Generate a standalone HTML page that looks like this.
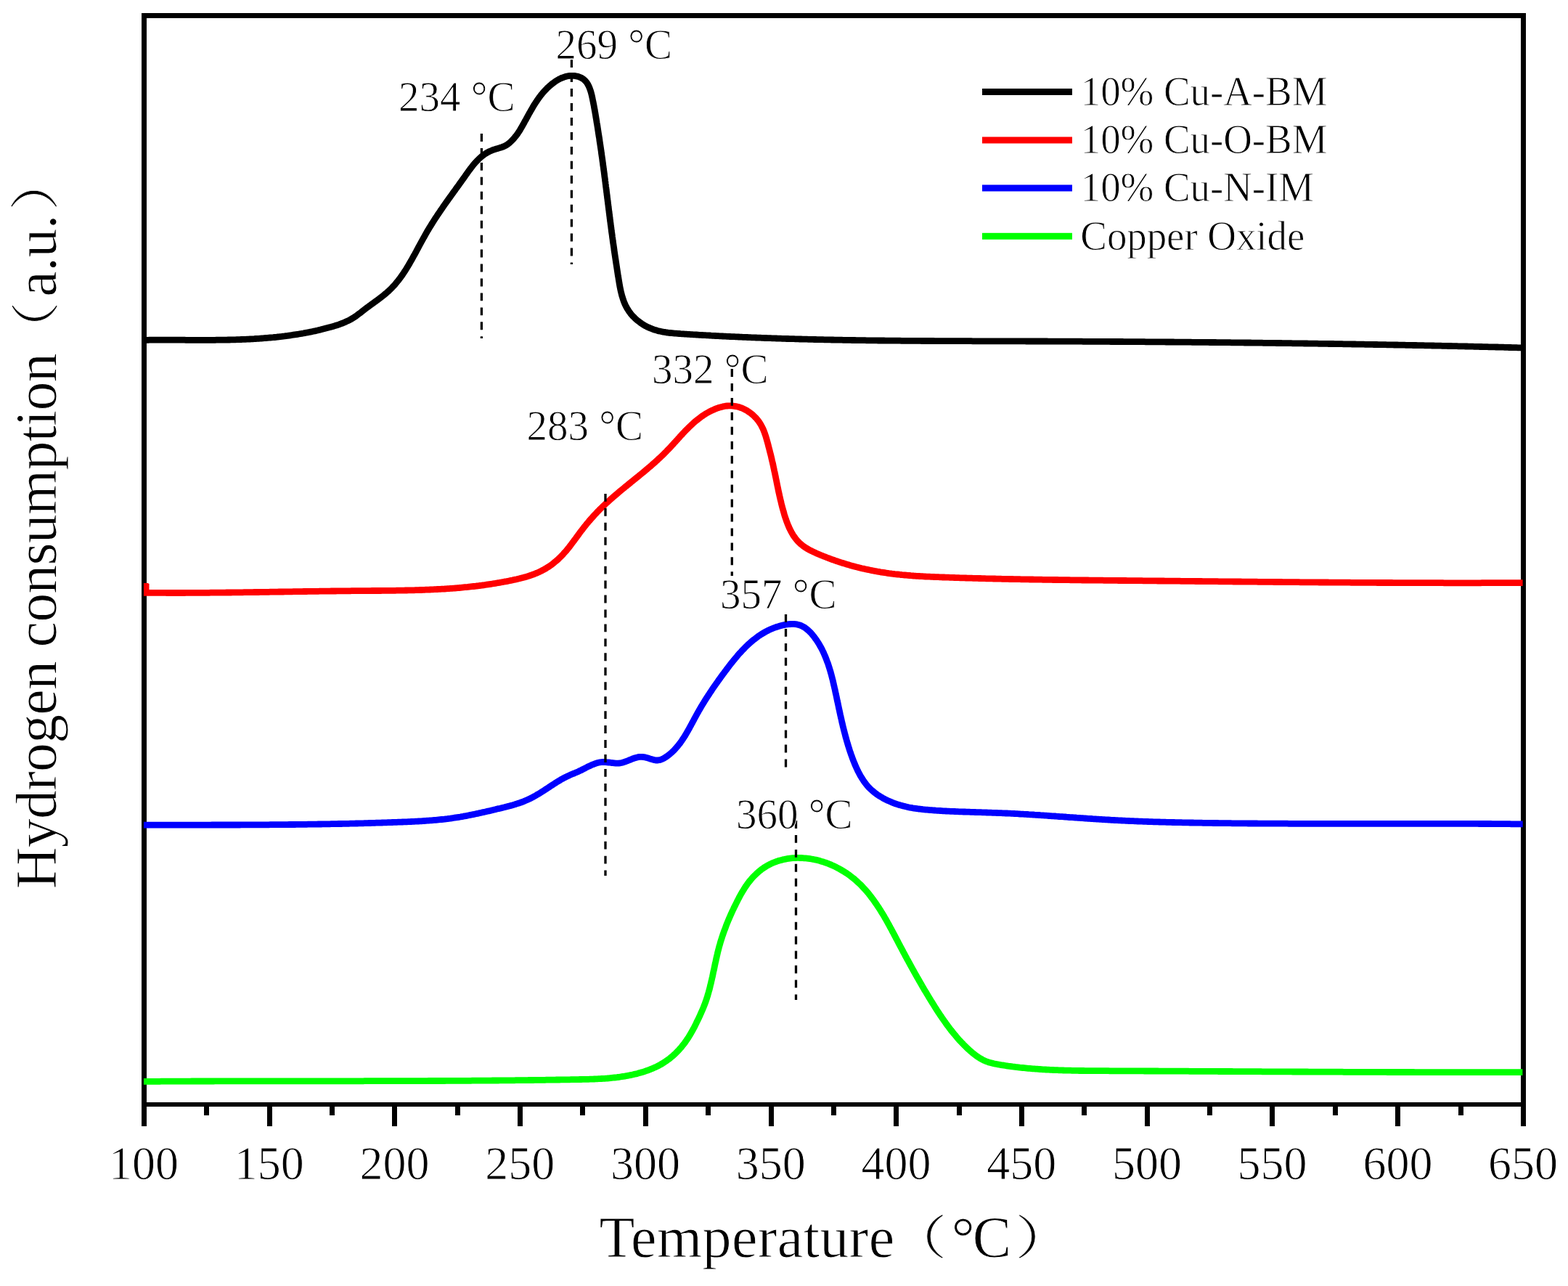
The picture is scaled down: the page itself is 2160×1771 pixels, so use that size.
<!DOCTYPE html>
<html><head><meta charset="utf-8"><title>H2-TPR profiles</title>
<style>
html,body{margin:0;padding:0;background:#fff;}
body{width:2160px;height:1771px;overflow:hidden;}
svg{display:block;}
text{stroke:#fff;stroke-width:0.9px;}
</style></head>
<body>
<svg width="2160" height="1771" viewBox="0 0 2160 1771">
<rect width="2160" height="1771" fill="#fff"/>
<g fill="#000">
<rect x="195" y="18" width="907" height="7"/>
<rect x="195" y="18" width="7" height="1533"/>
<rect x="2095" y="18" width="7" height="1533"/>
<rect x="195" y="1518" width="1907" height="6"/>
<rect x="1100" y="18" width="1002" height="7"/>
<rect x="281" y="1524" width="7" height="12"/>
<rect x="368" y="1524" width="7" height="27"/>
<rect x="454" y="1524" width="7" height="12"/>
<rect x="540" y="1524" width="7" height="27"/>
<rect x="627" y="1524" width="7" height="12"/>
<rect x="713" y="1524" width="7" height="27"/>
<rect x="799" y="1524" width="7" height="12"/>
<rect x="886" y="1524" width="7" height="27"/>
<rect x="972" y="1524" width="7" height="12"/>
<rect x="1059" y="1524" width="7" height="27"/>
<rect x="1145" y="1524" width="7" height="12"/>
<rect x="1231" y="1524" width="7" height="27"/>
<rect x="1318" y="1524" width="7" height="12"/>
<rect x="1404" y="1524" width="7" height="27"/>
<rect x="1490" y="1524" width="7" height="12"/>
<rect x="1577" y="1524" width="7" height="27"/>
<rect x="1663" y="1524" width="7" height="12"/>
<rect x="1749" y="1524" width="7" height="27"/>
<rect x="1836" y="1524" width="7" height="12"/>
<rect x="1922" y="1524" width="7" height="27"/>
<rect x="2009" y="1524" width="7" height="12"/>
</g>
<g font-family="'Liberation Serif', serif" font-size="64" text-anchor="middle" fill="#000" transform="translate(0,1624) scale(1,1.04) translate(0,-1624)">
<text x="198.1" y="1624">100</text>
<text x="370.8" y="1624">150</text>
<text x="543.6" y="1624">200</text>
<text x="716.3" y="1624">250</text>
<text x="889.0" y="1624">300</text>
<text x="1061.7" y="1624">350</text>
<text x="1234.5" y="1624">400</text>
<text x="1407.2" y="1624">450</text>
<text x="1579.9" y="1624">500</text>
<text x="1752.6" y="1624">550</text>
<text x="1925.4" y="1624">600</text>
<text x="2098.1" y="1624">650</text>
</g>
<path d="M198.0,468.3 200.0,468.3 202.0,468.3 204.0,468.3 206.0,468.2 208.0,468.2 210.0,468.2 212.0,468.2 214.0,468.2 216.0,468.2 218.0,468.2 220.1,468.2 222.1,468.2 224.1,468.2 226.1,468.1 228.1,468.2 230.1,468.2 232.1,468.2 234.1,468.2 236.1,468.2 238.1,468.2 240.1,468.2 242.1,468.2 244.1,468.2 246.1,468.2 248.1,468.2 250.1,468.2 252.1,468.2 254.1,468.2 256.1,468.3 258.1,468.3 260.1,468.3 262.1,468.3 264.1,468.3 266.1,468.3 268.1,468.3 270.1,468.3 272.1,468.3 274.1,468.3 276.1,468.3 278.1,468.3 280.1,468.3 282.1,468.3 284.1,468.3 286.2,468.3 288.2,468.3 290.2,468.3 292.2,468.3 294.2,468.3 296.2,468.3 298.2,468.2 300.2,468.2 302.2,468.2 304.2,468.2 306.2,468.2 308.2,468.1 310.2,468.1 312.2,468.1 314.2,468.0 316.2,468.0 318.2,467.9 320.2,467.9 322.2,467.8 324.2,467.8 326.2,467.7 328.2,467.6 330.2,467.6 332.2,467.5 334.2,467.4 336.2,467.3 338.2,467.3 340.2,467.2 342.2,467.1 344.2,467.0 346.2,466.9 348.2,466.8 350.2,466.7 352.2,466.5 354.2,466.4 356.2,466.3 358.2,466.1 360.2,466.0 362.2,465.9 364.2,465.7 366.2,465.5 368.2,465.4 370.2,465.2 372.2,465.0 374.2,464.8 376.2,464.7 378.2,464.5 380.2,464.3 382.2,464.0 384.1,463.8 386.1,463.6 388.1,463.4 390.1,463.1 392.1,462.9 394.1,462.6 396.1,462.4 398.1,462.1 400.0,461.8 402.0,461.5 404.0,461.2 406.0,460.9 408.0,460.6 409.9,460.3 411.9,460.0 413.9,459.7 415.9,459.3 417.8,459.0 419.8,458.6 421.8,458.2 423.8,457.9 425.7,457.5 427.7,457.1 429.6,456.7 431.6,456.3 433.6,455.9 435.5,455.4 437.5,455.0 439.4,454.5 441.4,454.1 443.3,453.6 445.3,453.1 447.2,452.6 449.1,452.1 451.1,451.6 453.0,451.1 454.9,450.6 456.9,450.0 458.8,449.5 460.7,448.9 462.6,448.3 464.5,447.7 466.4,447.1 468.3,446.4 470.2,445.7 472.1,445.0 473.9,444.2 475.8,443.4 477.6,442.6 479.4,441.8 481.2,440.9 483.0,439.9 484.7,438.9 486.4,437.9 488.1,436.8 489.8,435.7 491.4,434.5 493.0,433.3 494.6,432.1 496.2,430.9 497.8,429.7 499.3,428.4 500.9,427.2 502.5,426.0 504.1,424.8 505.7,423.6 507.3,422.4 508.9,421.2 510.6,420.0 512.2,418.8 513.8,417.7 515.4,416.5 517.0,415.3 518.7,414.1 520.3,412.9 521.9,411.7 523.5,410.5 525.1,409.3 526.6,408.1 528.2,406.8 529.8,405.5 531.3,404.3 532.8,403.0 534.3,401.6 535.8,400.3 537.3,398.9 538.7,397.5 540.1,396.1 541.5,394.6 542.8,393.2 544.2,391.7 545.5,390.1 546.7,388.6 548.0,387.0 549.2,385.5 550.4,383.9 551.6,382.3 552.8,380.6 554.0,379.0 555.1,377.3 556.2,375.7 557.3,374.0 558.4,372.3 559.5,370.6 560.5,368.9 561.6,367.2 562.6,365.5 563.6,363.8 564.6,362.0 565.6,360.3 566.6,358.6 567.6,356.8 568.6,355.1 569.5,353.3 570.5,351.6 571.5,349.8 572.4,348.1 573.4,346.3 574.3,344.5 575.3,342.8 576.2,341.0 577.2,339.2 578.1,337.5 579.1,335.7 580.0,334.0 581.0,332.2 582.0,330.4 582.9,328.7 583.9,326.9 584.9,325.2 585.9,323.4 586.8,321.7 587.8,320.0 588.8,318.2 589.9,316.5 590.9,314.8 591.9,313.1 593.0,311.4 594.0,309.7 595.1,308.0 596.1,306.3 597.2,304.6 598.3,302.9 599.4,301.2 600.5,299.5 601.6,297.9 602.7,296.2 603.8,294.5 604.9,292.9 606.1,291.2 607.2,289.5 608.3,287.9 609.5,286.2 610.6,284.6 611.7,283.0 612.9,281.3 614.0,279.7 615.2,278.0 616.4,276.4 617.5,274.8 618.7,273.1 619.9,271.5 621.0,269.9 622.2,268.3 623.4,266.6 624.5,265.0 625.7,263.4 626.9,261.8 628.0,260.1 629.2,258.5 630.4,256.9 631.6,255.3 632.7,253.6 633.9,252.0 635.1,250.4 636.2,248.8 637.4,247.1 638.6,245.5 639.7,243.9 640.9,242.2 642.0,240.6 643.2,239.0 644.4,237.3 645.5,235.7 646.7,234.1 647.9,232.5 649.1,230.9 650.4,229.3 651.6,227.7 652.9,226.2 654.2,224.7 655.5,223.2 656.9,221.7 658.3,220.3 659.7,218.9 661.2,217.5 662.7,216.2 664.2,214.9 665.8,213.7 667.4,212.5 669.1,211.4 670.8,210.4 672.6,209.4 674.3,208.5 676.2,207.7 678.0,206.9 679.9,206.2 681.8,205.6 683.7,205.0 685.6,204.5 687.6,203.9 689.5,203.3 691.4,202.7 693.3,202.0 695.1,201.1 696.9,200.2 698.6,199.2 700.2,198.0 701.8,196.8 703.3,195.4 704.7,194.1 706.1,192.6 707.5,191.2 708.8,189.6 710.0,188.1 711.3,186.5 712.4,184.9 713.6,183.2 714.7,181.6 715.8,179.9 716.8,178.2 717.8,176.4 718.8,174.7 719.8,173.0 720.8,171.2 721.8,169.5 722.7,167.7 723.7,165.9 724.7,164.2 725.6,162.4 726.6,160.7 727.5,158.9 728.5,157.2 729.5,155.4 730.5,153.7 731.5,151.9 732.5,150.2 733.5,148.5 734.5,146.7 735.5,145.0 736.6,143.3 737.7,141.6 738.8,140.0 739.9,138.3 741.0,136.7 742.2,135.0 743.4,133.4 744.6,131.8 745.8,130.3 747.1,128.7 748.4,127.2 749.7,125.7 751.1,124.2 752.5,122.8 753.9,121.3 755.3,120.0 756.8,118.6 758.3,117.3 759.9,116.0 761.4,114.8 763.1,113.6 764.7,112.4 766.4,111.3 768.1,110.3 769.8,109.3 771.6,108.4 773.4,107.5 775.3,106.8 777.2,106.1 779.1,105.5 781.0,105.0 783.0,104.7 785.0,104.4 787.0,104.3 789.0,104.3 791.0,104.4 793.0,104.7 794.9,105.1 796.9,105.6 798.7,106.3 800.6,107.1 802.3,108.1 803.9,109.2 805.5,110.6 806.8,112.0 808.1,113.6 809.2,115.2 810.2,117.0 811.1,118.8 811.9,120.6 812.6,122.5 813.3,124.4 813.9,126.3 814.4,128.2 814.9,130.1 815.4,132.1 815.8,134.0 816.2,136.0 816.6,138.0 817.0,139.9 817.4,141.9 817.8,143.9 818.2,145.8 818.5,147.8 818.9,149.8 819.2,151.7 819.6,153.7 819.9,155.7 820.3,157.7 820.6,159.6 820.9,161.6 821.3,163.6 821.6,165.6 821.9,167.5 822.2,169.5 822.6,171.5 822.9,173.5 823.2,175.4 823.5,177.4 823.8,179.4 824.1,181.4 824.4,183.4 824.7,185.3 825.0,187.3 825.4,189.3 825.7,191.3 825.9,193.3 826.2,195.2 826.5,197.2 826.8,199.2 827.1,201.2 827.4,203.2 827.7,205.2 828.0,207.1 828.3,209.1 828.5,211.1 828.8,213.1 829.1,215.1 829.4,217.1 829.7,219.0 829.9,221.0 830.2,223.0 830.5,225.0 830.7,227.0 831.0,229.0 831.3,230.9 831.5,232.9 831.8,234.9 832.1,236.9 832.3,238.9 832.6,240.9 832.8,242.9 833.1,244.8 833.4,246.8 833.6,248.8 833.9,250.8 834.1,252.8 834.4,254.8 834.6,256.8 834.9,258.8 835.1,260.7 835.4,262.7 835.6,264.7 835.9,266.7 836.1,268.7 836.4,270.7 836.6,272.7 836.9,274.7 837.1,276.6 837.4,278.6 837.6,280.6 837.9,282.6 838.1,284.6 838.4,286.6 838.6,288.6 838.9,290.6 839.1,292.5 839.4,294.5 839.6,296.5 839.9,298.5 840.1,300.5 840.4,302.5 840.6,304.5 840.9,306.4 841.1,308.4 841.4,310.4 841.7,312.4 841.9,314.4 842.2,316.4 842.4,318.4 842.7,320.4 843.0,322.3 843.3,324.3 843.5,326.3 843.8,328.3 844.1,330.3 844.3,332.3 844.6,334.2 844.9,336.2 845.2,338.2 845.5,340.2 845.8,342.2 846.0,344.2 846.3,346.1 846.6,348.1 846.9,350.1 847.2,352.1 847.5,354.1 847.8,356.0 848.1,358.0 848.4,360.0 848.7,362.0 849.0,364.0 849.3,365.9 849.6,367.9 849.9,369.9 850.2,371.9 850.5,373.9 850.8,375.8 851.1,377.8 851.4,379.8 851.8,381.8 852.1,383.8 852.4,385.7 852.7,387.7 853.0,389.7 853.4,391.7 853.7,393.6 854.1,395.6 854.5,397.6 854.9,399.5 855.3,401.5 855.8,403.4 856.3,405.4 856.8,407.3 857.4,409.2 858.0,411.1 858.6,413.0 859.3,414.9 860.0,416.8 860.8,418.6 861.6,420.4 862.5,422.2 863.5,424.0 864.5,425.7 865.6,427.4 866.7,429.1 867.9,430.7 869.1,432.3 870.4,433.8 871.7,435.3 873.1,436.7 874.6,438.2 876.0,439.5 877.5,440.8 879.1,442.1 880.7,443.3 882.3,444.5 883.9,445.6 885.6,446.7 887.3,447.8 889.1,448.8 890.8,449.7 892.6,450.6 894.5,451.4 896.3,452.2 898.2,452.9 900.0,453.6 901.9,454.3 903.9,454.8 905.8,455.4 907.7,455.9 909.7,456.3 911.6,456.7 913.6,457.1 915.6,457.4 917.6,457.8 919.5,458.0 921.5,458.3 923.5,458.5 925.5,458.7 927.5,458.9 929.5,459.1 931.5,459.2 933.5,459.4 935.5,459.5 937.5,459.7 939.5,459.8 941.5,459.9 943.5,460.1 945.5,460.2 947.5,460.3 949.5,460.4 951.5,460.6 953.5,460.7 955.5,460.8 957.5,460.9 959.5,461.0 961.5,461.1 963.5,461.3 965.5,461.4 967.5,461.5 969.5,461.6 971.5,461.7 973.5,461.8 975.5,461.9 977.5,462.0 979.5,462.2 981.5,462.3 983.5,462.4 985.5,462.5 987.5,462.6 989.5,462.7 991.5,462.8 993.5,462.9 995.5,463.0 997.5,463.1 999.5,463.2 1001.5,463.3 1003.5,463.4 1005.5,463.5 1007.5,463.6 1009.5,463.7 1011.5,463.7 1013.5,463.8 1015.5,463.9 1017.5,464.0 1019.5,464.1 1021.5,464.2 1023.5,464.3 1025.5,464.4 1027.5,464.4 1029.5,464.5 1031.5,464.6 1033.5,464.7 1035.5,464.8 1037.5,464.9 1039.5,464.9 1041.5,465.0 1043.5,465.1 1045.5,465.2 1047.5,465.2 1049.5,465.3 1051.5,465.4 1053.5,465.5 1055.5,465.5 1057.5,465.6 1059.5,465.7 1061.5,465.7 1063.5,465.8 1065.5,465.9 1067.5,465.9 1069.5,466.0 1071.5,466.1 1073.5,466.1 1075.5,466.2 1077.5,466.3 1079.5,466.3 1081.5,466.4 1083.6,466.5 1085.6,466.5 1087.6,466.6 1089.6,466.6 1091.6,466.7 1093.6,466.7 1095.6,466.8 1097.6,466.9 1099.6,466.9 1101.6,467.0 1103.6,467.0 1105.6,467.1 1107.6,467.1 1109.6,467.2 1111.6,467.2 1113.6,467.3 1115.6,467.3 1117.6,467.4 1119.6,467.4 1121.6,467.5 1123.6,467.5 1125.6,467.6 1127.6,467.6 1129.6,467.7 1131.6,467.7 1133.6,467.7 1135.6,467.8 1137.6,467.8 1139.6,467.9 1141.6,467.9 1143.6,467.9 1145.6,468.0 1147.6,468.0 1149.6,468.1 1151.6,468.1 1153.6,468.1 1155.6,468.2 1157.6,468.2 1159.6,468.2 1161.6,468.3 1163.6,468.3 1165.7,468.3 1167.7,468.4 1169.7,468.4 1171.7,468.4 1173.7,468.5 1175.7,468.5 1177.7,468.5 1179.7,468.6 1181.7,468.6 1183.7,468.6 1185.7,468.7 1187.7,468.7 1189.7,468.7 1191.7,468.7 1193.7,468.8 1195.7,468.8 1197.7,468.8 1199.7,468.8 1201.7,468.9 1203.7,468.9 1205.7,468.9 1207.7,468.9 1209.7,469.0 1211.7,469.0 1213.7,469.0 1215.7,469.0 1217.7,469.0 1219.7,469.1 1221.7,469.1 1223.7,469.1 1225.7,469.1 1227.7,469.1 1229.7,469.2 1231.7,469.2 1233.7,469.2 1235.8,469.2 1237.8,469.2 1239.8,469.2 1241.8,469.3 1243.8,469.3 1245.8,469.3 1247.8,469.3 1249.8,469.3 1251.8,469.3 1253.8,469.4 1255.8,469.4 1257.8,469.4 1259.8,469.4 1261.8,469.4 1263.8,469.4 1265.8,469.4 1267.8,469.4 1269.8,469.5 1271.8,469.5 1273.8,469.5 1275.8,469.5 1277.8,469.5 1279.8,469.5 1281.8,469.5 1283.8,469.5 1285.8,469.5 1287.8,469.6 1289.8,469.6 1291.8,469.6 1293.8,469.6 1295.8,469.6 1297.8,469.6 1299.8,469.6 1301.8,469.6 1303.9,469.6 1305.9,469.6 1307.9,469.6 1309.9,469.7 1311.9,469.7 1313.9,469.7 1315.9,469.7 1317.9,469.7 1319.9,469.7 1321.9,469.7 1323.9,469.7 1325.9,469.7 1327.9,469.7 1329.9,469.7 1331.9,469.7 1333.9,469.7 1335.9,469.7 1337.9,469.7 1339.9,469.8 1341.9,469.8 1343.9,469.8 1345.9,469.8 1347.9,469.8 1349.9,469.8 1351.9,469.8 1353.9,469.8 1355.9,469.8 1357.9,469.8 1359.9,469.8 1361.9,469.8 1363.9,469.8 1365.9,469.8 1367.9,469.8 1370.0,469.8 1372.0,469.8 1374.0,469.8 1376.0,469.8 1378.0,469.9 1380.0,469.9 1382.0,469.9 1384.0,469.9 1386.0,469.9 1388.0,469.9 1390.0,469.9 1392.0,469.9 1394.0,469.9 1396.0,469.9 1398.0,469.9 1400.0,469.9 1402.0,469.9 1404.0,469.9 1406.0,469.9 1408.0,469.9 1410.0,469.9 1412.0,469.9 1414.0,470.0 1416.0,470.0 1418.0,470.0 1420.0,470.0 1422.0,470.0 1424.0,470.0 1426.0,470.0 1428.0,470.0 1430.0,470.0 1432.0,470.0 1434.0,470.0 1436.1,470.0 1438.1,470.0 1440.1,470.0 1442.1,470.0 1444.1,470.1 1446.1,470.1 1448.1,470.1 1450.1,470.1 1452.1,470.1 1454.1,470.1 1456.1,470.1 1458.1,470.1 1460.1,470.1 1462.1,470.1 1464.1,470.1 1466.1,470.1 1468.1,470.1 1470.1,470.2 1472.1,470.2 1474.1,470.2 1476.1,470.2 1478.1,470.2 1480.1,470.2 1482.1,470.2 1484.1,470.2 1486.1,470.2 1488.1,470.2 1490.1,470.2 1492.1,470.3 1494.1,470.3 1496.1,470.3 1498.1,470.3 1500.1,470.3 1502.1,470.3 1504.2,470.3 1506.2,470.3 1508.2,470.3 1510.2,470.3 1512.2,470.4 1514.2,470.4 1516.2,470.4 1518.2,470.4 1520.2,470.4 1522.2,470.4 1524.2,470.4 1526.2,470.4 1528.2,470.4 1530.2,470.5 1532.2,470.5 1534.2,470.5 1536.2,470.5 1538.2,470.5 1540.2,470.5 1542.2,470.5 1544.2,470.5 1546.2,470.5 1548.2,470.6 1550.2,470.6 1552.2,470.6 1554.2,470.6 1556.2,470.6 1558.2,470.6 1560.2,470.6 1562.2,470.6 1564.2,470.7 1566.2,470.7 1568.2,470.7 1570.3,470.7 1572.3,470.7 1574.3,470.7 1576.3,470.7 1578.3,470.8 1580.3,470.8 1582.3,470.8 1584.3,470.8 1586.3,470.8 1588.3,470.8 1590.3,470.8 1592.3,470.9 1594.3,470.9 1596.3,470.9 1598.3,470.9 1600.3,470.9 1602.3,470.9 1604.3,470.9 1606.3,471.0 1608.3,471.0 1610.3,471.0 1612.3,471.0 1614.3,471.0 1616.3,471.0 1618.3,471.1 1620.3,471.1 1622.3,471.1 1624.3,471.1 1626.3,471.1 1628.3,471.1 1630.3,471.1 1632.3,471.2 1634.3,471.2 1636.3,471.2 1638.4,471.2 1640.4,471.2 1642.4,471.3 1644.4,471.3 1646.4,471.3 1648.4,471.3 1650.4,471.3 1652.4,471.3 1654.4,471.4 1656.4,471.4 1658.4,471.4 1660.4,471.4 1662.4,471.4 1664.4,471.4 1666.4,471.5 1668.4,471.5 1670.4,471.5 1672.4,471.5 1674.4,471.5 1676.4,471.6 1678.4,471.6 1680.4,471.6 1682.4,471.6 1684.4,471.6 1686.4,471.7 1688.4,471.7 1690.4,471.7 1692.4,471.7 1694.4,471.7 1696.4,471.8 1698.4,471.8 1700.4,471.8 1702.4,471.8 1704.4,471.8 1706.4,471.9 1708.5,471.9 1710.5,471.9 1712.5,471.9 1714.5,472.0 1716.5,472.0 1718.5,472.0 1720.5,472.0 1722.5,472.0 1724.5,472.1 1726.5,472.1 1728.5,472.1 1730.5,472.1 1732.5,472.2 1734.5,472.2 1736.5,472.2 1738.5,472.2 1740.5,472.3 1742.5,472.3 1744.5,472.3 1746.5,472.3 1748.5,472.3 1750.5,472.4 1752.5,472.4 1754.5,472.4 1756.5,472.4 1758.5,472.5 1760.5,472.5 1762.5,472.5 1764.5,472.5 1766.5,472.6 1768.5,472.6 1770.5,472.6 1772.5,472.6 1774.5,472.7 1776.6,472.7 1778.6,472.7 1780.6,472.8 1782.6,472.8 1784.6,472.8 1786.6,472.8 1788.6,472.9 1790.6,472.9 1792.6,472.9 1794.6,472.9 1796.6,473.0 1798.6,473.0 1800.6,473.0 1802.6,473.1 1804.6,473.1 1806.6,473.1 1808.6,473.1 1810.6,473.2 1812.6,473.2 1814.6,473.2 1816.6,473.3 1818.6,473.3 1820.6,473.3 1822.6,473.3 1824.6,473.4 1826.6,473.4 1828.6,473.4 1830.6,473.5 1832.6,473.5 1834.6,473.5 1836.6,473.5 1838.6,473.6 1840.6,473.6 1842.6,473.6 1844.6,473.7 1846.6,473.7 1848.7,473.7 1850.7,473.8 1852.7,473.8 1854.7,473.8 1856.7,473.9 1858.7,473.9 1860.7,473.9 1862.7,474.0 1864.7,474.0 1866.7,474.0 1868.7,474.1 1870.7,474.1 1872.7,474.1 1874.7,474.2 1876.7,474.2 1878.7,474.2 1880.7,474.3 1882.7,474.3 1884.7,474.3 1886.7,474.4 1888.7,474.4 1890.7,474.4 1892.7,474.5 1894.7,474.5 1896.7,474.5 1898.7,474.6 1900.7,474.6 1902.7,474.6 1904.7,474.7 1906.7,474.7 1908.7,474.7 1910.7,474.8 1912.7,474.8 1914.7,474.9 1916.7,474.9 1918.7,474.9 1920.7,475.0 1922.8,475.0 1924.8,475.0 1926.8,475.1 1928.8,475.1 1930.8,475.2 1932.8,475.2 1934.8,475.2 1936.8,475.3 1938.8,475.3 1940.8,475.3 1942.8,475.4 1944.8,475.4 1946.8,475.5 1948.8,475.5 1950.8,475.5 1952.8,475.6 1954.8,475.6 1956.8,475.7 1958.8,475.7 1960.8,475.7 1962.8,475.8 1964.8,475.8 1966.8,475.9 1968.8,475.9 1970.8,475.9 1972.8,476.0 1974.8,476.0 1976.8,476.1 1978.8,476.1 1980.8,476.2 1982.8,476.2 1984.8,476.2 1986.8,476.3 1988.8,476.3 1990.8,476.4 1992.8,476.4 1994.8,476.5 1996.8,476.5 1998.9,476.5 2000.9,476.6 2002.9,476.6 2004.9,476.7 2006.9,476.7 2008.9,476.8 2010.9,476.8 2012.9,476.9 2014.9,476.9 2016.9,476.9 2018.9,477.0 2020.9,477.0 2022.9,477.1 2024.9,477.1 2026.9,477.2 2028.9,477.2 2030.9,477.3 2032.9,477.3 2034.9,477.4 2036.9,477.4 2038.9,477.5 2040.9,477.5 2042.9,477.6 2044.9,477.6 2046.9,477.7 2048.9,477.7 2050.9,477.8 2052.9,477.8 2054.9,477.8 2056.9,477.9 2058.9,477.9 2060.9,478.0 2062.9,478.0 2064.9,478.1 2066.9,478.1 2068.9,478.2 2070.9,478.2 2072.9,478.3 2074.9,478.3 2076.9,478.4 2078.9,478.5 2081.0,478.5 2083.0,478.6 2085.0,478.6 2087.0,478.7 2089.0,478.7 2091.0,478.8 2093.0,478.8 2095.0,478.9 2097.0,478.9" fill="none" stroke="#000" stroke-width="8.8" stroke-linejoin="round" stroke-linecap="butt"/>
<path d="M198.0,816.3 200.0,816.3 202.0,816.3 204.0,816.3 206.0,816.3 208.0,816.3 210.0,816.4 212.0,816.4 214.0,816.4 216.0,816.4 218.0,816.4 220.0,816.4 222.0,816.4 224.0,816.4 226.0,816.4 228.0,816.4 230.0,816.5 232.0,816.5 234.0,816.5 236.0,816.5 238.0,816.5 240.0,816.5 242.1,816.5 244.1,816.5 246.1,816.5 248.1,816.5 250.1,816.5 252.1,816.5 254.1,816.5 256.1,816.4 258.1,816.4 260.1,816.4 262.1,816.4 264.1,816.4 266.1,816.4 268.1,816.4 270.1,816.4 272.1,816.4 274.1,816.4 276.1,816.4 278.1,816.3 280.1,816.3 282.1,816.3 284.1,816.3 286.1,816.3 288.1,816.3 290.1,816.2 292.1,816.2 294.1,816.2 296.1,816.2 298.1,816.2 300.1,816.2 302.1,816.1 304.1,816.1 306.1,816.1 308.1,816.1 310.1,816.1 312.1,816.0 314.1,816.0 316.2,816.0 318.2,816.0 320.2,815.9 322.2,815.9 324.2,815.9 326.2,815.9 328.2,815.8 330.2,815.8 332.2,815.8 334.2,815.8 336.2,815.7 338.2,815.7 340.2,815.7 342.2,815.7 344.2,815.6 346.2,815.6 348.2,815.6 350.2,815.5 352.2,815.5 354.2,815.5 356.2,815.5 358.2,815.4 360.2,815.4 362.2,815.4 364.2,815.3 366.2,815.3 368.2,815.3 370.2,815.3 372.2,815.2 374.2,815.2 376.2,815.2 378.2,815.1 380.2,815.1 382.2,815.1 384.2,815.0 386.2,815.0 388.2,815.0 390.2,815.0 392.2,814.9 394.3,814.9 396.3,814.9 398.3,814.8 400.3,814.8 402.3,814.8 404.3,814.7 406.3,814.7 408.3,814.7 410.3,814.7 412.3,814.6 414.3,814.6 416.3,814.6 418.3,814.5 420.3,814.5 422.3,814.5 424.3,814.4 426.3,814.4 428.3,814.4 430.3,814.4 432.3,814.3 434.3,814.3 436.3,814.3 438.3,814.3 440.3,814.2 442.3,814.2 444.3,814.2 446.3,814.2 448.3,814.1 450.3,814.1 452.3,814.1 454.3,814.1 456.3,814.0 458.3,814.0 460.3,814.0 462.3,814.0 464.3,813.9 466.3,813.9 468.3,813.9 470.3,813.9 472.4,813.9 474.4,813.8 476.4,813.8 478.4,813.8 480.4,813.8 482.4,813.8 484.4,813.7 486.4,813.7 488.4,813.7 490.4,813.7 492.4,813.7 494.4,813.7 496.4,813.6 498.4,813.6 500.4,813.6 502.4,813.6 504.4,813.6 506.4,813.6 508.4,813.6 510.4,813.6 512.4,813.5 514.4,813.5 516.4,813.5 518.4,813.5 520.4,813.5 522.4,813.5 524.4,813.5 526.4,813.4 528.4,813.4 530.4,813.4 532.4,813.4 534.4,813.4 536.4,813.4 538.4,813.3 540.4,813.3 542.4,813.3 544.4,813.3 546.5,813.2 548.5,813.2 550.5,813.2 552.5,813.1 554.5,813.1 556.5,813.1 558.5,813.0 560.5,813.0 562.5,812.9 564.5,812.9 566.5,812.9 568.5,812.8 570.5,812.8 572.5,812.7 574.5,812.6 576.5,812.6 578.5,812.5 580.5,812.5 582.5,812.4 584.5,812.3 586.5,812.2 588.5,812.2 590.5,812.1 592.5,812.0 594.5,811.9 596.5,811.8 598.5,811.7 600.5,811.6 602.5,811.5 604.5,811.4 606.5,811.3 608.5,811.2 610.5,811.1 612.5,811.0 614.5,810.8 616.5,810.7 618.5,810.6 620.5,810.4 622.5,810.3 624.5,810.1 626.5,810.0 628.5,809.8 630.5,809.6 632.5,809.5 634.5,809.3 636.5,809.1 638.5,808.9 640.4,808.7 642.4,808.6 644.4,808.4 646.4,808.1 648.4,807.9 650.4,807.7 652.4,807.5 654.4,807.3 656.4,807.0 658.4,806.8 660.4,806.5 662.3,806.3 664.3,806.0 666.3,805.8 668.3,805.5 670.3,805.2 672.3,804.9 674.2,804.6 676.2,804.3 678.2,804.0 680.2,803.7 682.2,803.4 684.1,803.0 686.1,802.7 688.1,802.4 690.0,802.0 692.0,801.7 694.0,801.3 696.0,800.9 697.9,800.6 699.9,800.2 701.9,799.8 703.8,799.4 705.8,799.0 707.7,798.5 709.7,798.1 711.6,797.7 713.6,797.2 715.5,796.8 717.5,796.3 719.4,795.8 721.4,795.3 723.3,794.7 725.2,794.2 727.1,793.6 729.0,793.0 730.9,792.3 732.8,791.7 734.7,791.0 736.6,790.3 738.4,789.5 740.3,788.8 742.1,788.0 743.9,787.1 745.7,786.2 747.5,785.3 749.3,784.4 751.0,783.4 752.7,782.4 754.4,781.3 756.1,780.2 757.8,779.1 759.4,777.9 761.0,776.7 762.6,775.5 764.1,774.2 765.7,772.9 767.2,771.6 768.7,770.3 770.1,768.9 771.6,767.5 773.0,766.1 774.4,764.7 775.8,763.2 777.1,761.7 778.4,760.2 779.8,758.7 781.0,757.2 782.3,755.6 783.6,754.1 784.8,752.5 786.0,750.9 787.2,749.3 788.4,747.7 789.6,746.1 790.8,744.5 792.0,742.9 793.2,741.3 794.4,739.6 795.6,738.0 796.8,736.4 797.9,734.8 799.1,733.2 800.3,731.6 801.6,730.0 802.8,728.4 804.0,726.8 805.2,725.3 806.5,723.7 807.8,722.1 809.0,720.6 810.3,719.1 811.6,717.5 812.9,716.0 814.2,714.5 815.6,713.0 816.9,711.5 818.2,710.0 819.6,708.5 821.0,707.1 822.3,705.6 823.7,704.2 825.1,702.8 826.5,701.3 828.0,699.9 829.4,698.5 830.8,697.1 832.3,695.8 833.7,694.4 835.2,693.0 836.7,691.7 838.2,690.3 839.7,689.0 841.1,687.6 842.6,686.3 844.2,685.0 845.7,683.7 847.2,682.4 848.7,681.1 850.2,679.8 851.8,678.5 853.3,677.2 854.8,675.9 856.4,674.6 857.9,673.4 859.5,672.1 861.0,670.8 862.6,669.6 864.1,668.3 865.7,667.0 867.2,665.8 868.8,664.5 870.3,663.2 871.9,662.0 873.5,660.7 875.0,659.5 876.6,658.2 878.1,656.9 879.7,655.7 881.2,654.4 882.8,653.1 884.3,651.9 885.9,650.6 887.4,649.3 889.0,648.0 890.5,646.7 892.0,645.5 893.5,644.2 895.1,642.9 896.6,641.6 898.1,640.2 899.6,638.9 901.1,637.6 902.6,636.3 904.1,634.9 905.6,633.6 907.0,632.2 908.5,630.9 910.0,629.5 911.4,628.1 912.9,626.7 914.3,625.3 915.7,623.9 917.1,622.5 918.5,621.1 919.9,619.6 921.3,618.2 922.7,616.7 924.1,615.2 925.4,613.8 926.8,612.3 928.1,610.8 929.5,609.3 930.8,607.9 932.1,606.4 933.5,604.9 934.8,603.4 936.2,601.9 937.5,600.4 938.9,599.0 940.2,597.5 941.6,596.0 943.0,594.6 944.4,593.1 945.8,591.7 947.2,590.3 948.6,588.9 950.0,587.5 951.5,586.1 953.0,584.7 954.4,583.4 955.9,582.0 957.4,580.7 959.0,579.4 960.5,578.2 962.1,576.9 963.7,575.7 965.3,574.5 966.9,573.3 968.6,572.2 970.2,571.1 971.9,570.0 973.6,569.0 975.4,568.0 977.1,567.0 978.9,566.1 980.7,565.2 982.5,564.4 984.4,563.6 986.2,562.8 988.1,562.1 990.0,561.5 991.9,560.9 993.8,560.4 995.8,559.9 997.8,559.5 999.7,559.2 1001.7,559.0 1003.7,558.9 1005.7,558.8 1007.7,558.9 1009.7,559.0 1011.7,559.3 1013.7,559.6 1015.6,560.0 1017.6,560.5 1019.5,561.2 1021.4,561.8 1023.2,562.6 1025.0,563.4 1026.8,564.4 1028.6,565.3 1030.3,566.4 1031.9,567.5 1033.6,568.6 1035.2,569.9 1036.7,571.2 1038.2,572.5 1039.6,573.9 1041.0,575.3 1042.4,576.8 1043.6,578.4 1044.9,579.9 1046.0,581.6 1047.1,583.2 1048.2,585.0 1049.1,586.7 1050.0,588.5 1050.9,590.3 1051.7,592.1 1052.4,594.0 1053.2,595.9 1053.8,597.8 1054.5,599.7 1055.1,601.6 1055.6,603.5 1056.2,605.4 1056.7,607.3 1057.3,609.3 1057.8,611.2 1058.3,613.1 1058.8,615.1 1059.3,617.0 1059.8,618.9 1060.3,620.9 1060.8,622.8 1061.3,624.8 1061.8,626.7 1062.3,628.7 1062.7,630.6 1063.2,632.6 1063.6,634.5 1064.1,636.5 1064.5,638.4 1065.0,640.4 1065.4,642.3 1065.8,644.3 1066.2,646.2 1066.6,648.2 1067.1,650.2 1067.5,652.1 1067.9,654.1 1068.3,656.0 1068.7,658.0 1069.1,660.0 1069.5,661.9 1069.9,663.9 1070.3,665.9 1070.7,667.8 1071.1,669.8 1071.5,671.7 1071.9,673.7 1072.3,675.7 1072.7,677.6 1073.2,679.6 1073.6,681.5 1074.0,683.5 1074.5,685.4 1074.9,687.4 1075.4,689.3 1075.9,691.3 1076.3,693.2 1076.8,695.2 1077.3,697.1 1077.8,699.1 1078.3,701.0 1078.9,702.9 1079.4,704.8 1080.0,706.8 1080.5,708.7 1081.1,710.6 1081.7,712.5 1082.4,714.4 1083.0,716.3 1083.7,718.2 1084.4,720.1 1085.1,721.9 1085.9,723.8 1086.7,725.6 1087.5,727.5 1088.4,729.3 1089.3,731.1 1090.2,732.8 1091.2,734.6 1092.2,736.3 1093.3,738.0 1094.5,739.6 1095.6,741.2 1096.9,742.8 1098.2,744.3 1099.5,745.8 1100.9,747.2 1102.4,748.6 1103.9,749.9 1105.5,751.2 1107.1,752.4 1108.7,753.5 1110.4,754.6 1112.1,755.6 1113.8,756.6 1115.6,757.6 1117.4,758.5 1119.2,759.4 1121.0,760.3 1122.8,761.1 1124.6,761.9 1126.5,762.7 1128.3,763.5 1130.2,764.3 1132.0,765.0 1133.9,765.8 1135.7,766.5 1137.6,767.2 1139.5,768.0 1141.3,768.7 1143.2,769.4 1145.1,770.1 1147.0,770.8 1148.9,771.4 1150.7,772.1 1152.6,772.7 1154.5,773.4 1156.4,774.0 1158.3,774.6 1160.2,775.2 1162.2,775.8 1164.1,776.4 1166.0,777.0 1167.9,777.6 1169.8,778.1 1171.8,778.7 1173.7,779.2 1175.6,779.7 1177.6,780.3 1179.5,780.8 1181.4,781.2 1183.4,781.7 1185.3,782.2 1187.3,782.7 1189.2,783.1 1191.2,783.6 1193.1,784.0 1195.1,784.4 1197.1,784.8 1199.0,785.2 1201.0,785.6 1202.9,786.0 1204.9,786.4 1206.9,786.7 1208.9,787.1 1210.8,787.4 1212.8,787.8 1214.8,788.1 1216.8,788.4 1218.7,788.7 1220.7,789.0 1222.7,789.3 1224.7,789.6 1226.7,789.8 1228.7,790.1 1230.6,790.3 1232.6,790.6 1234.6,790.8 1236.6,791.0 1238.6,791.2 1240.6,791.5 1242.6,791.7 1244.6,791.8 1246.6,792.0 1248.6,792.2 1250.6,792.4 1252.6,792.5 1254.6,792.7 1256.6,792.8 1258.6,793.0 1260.6,793.1 1262.5,793.3 1264.5,793.4 1266.5,793.5 1268.5,793.6 1270.5,793.7 1272.5,793.9 1274.5,794.0 1276.5,794.1 1278.5,794.2 1280.5,794.2 1282.5,794.3 1284.5,794.4 1286.6,794.5 1288.6,794.6 1290.6,794.7 1292.6,794.7 1294.6,794.8 1296.6,794.9 1298.6,795.0 1300.6,795.0 1302.6,795.1 1304.6,795.2 1306.6,795.2 1308.6,795.3 1310.6,795.4 1312.6,795.4 1314.6,795.5 1316.6,795.6 1318.6,795.6 1320.6,795.7 1322.6,795.8 1324.6,795.8 1326.6,795.9 1328.6,795.9 1330.6,796.0 1332.6,796.1 1334.6,796.1 1336.6,796.2 1338.6,796.2 1340.6,796.3 1342.6,796.3 1344.6,796.4 1346.6,796.4 1348.6,796.5 1350.6,796.5 1352.6,796.6 1354.6,796.7 1356.6,796.7 1358.6,796.8 1360.6,796.8 1362.6,796.8 1364.6,796.9 1366.6,796.9 1368.6,797.0 1370.6,797.0 1372.6,797.1 1374.6,797.1 1376.6,797.2 1378.6,797.2 1380.6,797.3 1382.6,797.3 1384.6,797.3 1386.6,797.4 1388.6,797.4 1390.7,797.5 1392.7,797.5 1394.7,797.5 1396.7,797.6 1398.7,797.6 1400.7,797.7 1402.7,797.7 1404.7,797.7 1406.7,797.8 1408.7,797.8 1410.7,797.8 1412.7,797.9 1414.7,797.9 1416.7,797.9 1418.7,798.0 1420.7,798.0 1422.7,798.0 1424.7,798.1 1426.7,798.1 1428.7,798.1 1430.7,798.2 1432.7,798.2 1434.7,798.2 1436.7,798.3 1438.7,798.3 1440.7,798.3 1442.7,798.3 1444.7,798.4 1446.7,798.4 1448.7,798.4 1450.7,798.5 1452.7,798.5 1454.7,798.5 1456.7,798.5 1458.7,798.6 1460.7,798.6 1462.7,798.6 1464.7,798.6 1466.7,798.7 1468.7,798.7 1470.8,798.7 1472.8,798.7 1474.8,798.8 1476.8,798.8 1478.8,798.8 1480.8,798.8 1482.8,798.9 1484.8,798.9 1486.8,798.9 1488.8,798.9 1490.8,799.0 1492.8,799.0 1494.8,799.0 1496.8,799.0 1498.8,799.0 1500.8,799.1 1502.8,799.1 1504.8,799.1 1506.8,799.1 1508.8,799.1 1510.8,799.2 1512.8,799.2 1514.8,799.2 1516.8,799.2 1518.8,799.2 1520.8,799.3 1522.8,799.3 1524.8,799.3 1526.8,799.3 1528.8,799.3 1530.8,799.4 1532.8,799.4 1534.8,799.4 1536.8,799.4 1538.8,799.4 1540.8,799.5 1542.8,799.5 1544.8,799.5 1546.9,799.5 1548.9,799.5 1550.9,799.5 1552.9,799.6 1554.9,799.6 1556.9,799.6 1558.9,799.6 1560.9,799.6 1562.9,799.7 1564.9,799.7 1566.9,799.7 1568.9,799.7 1570.9,799.7 1572.9,799.7 1574.9,799.8 1576.9,799.8 1578.9,799.8 1580.9,799.8 1582.9,799.8 1584.9,799.9 1586.9,799.9 1588.9,799.9 1590.9,799.9 1592.9,799.9 1594.9,800.0 1596.9,800.0 1598.9,800.0 1600.9,800.0 1602.9,800.0 1604.9,800.1 1606.9,800.1 1608.9,800.1 1610.9,800.1 1612.9,800.1 1614.9,800.1 1616.9,800.2 1618.9,800.2 1621.0,800.2 1623.0,800.2 1625.0,800.2 1627.0,800.3 1629.0,800.3 1631.0,800.3 1633.0,800.3 1635.0,800.3 1637.0,800.4 1639.0,800.4 1641.0,800.4 1643.0,800.4 1645.0,800.4 1647.0,800.5 1649.0,800.5 1651.0,800.5 1653.0,800.5 1655.0,800.5 1657.0,800.6 1659.0,800.6 1661.0,800.6 1663.0,800.6 1665.0,800.6 1667.0,800.6 1669.0,800.7 1671.0,800.7 1673.0,800.7 1675.0,800.7 1677.0,800.7 1679.0,800.8 1681.0,800.8 1683.0,800.8 1685.0,800.8 1687.0,800.8 1689.0,800.9 1691.0,800.9 1693.0,800.9 1695.1,800.9 1697.1,800.9 1699.1,801.0 1701.1,801.0 1703.1,801.0 1705.1,801.0 1707.1,801.0 1709.1,801.0 1711.1,801.1 1713.1,801.1 1715.1,801.1 1717.1,801.1 1719.1,801.1 1721.1,801.2 1723.1,801.2 1725.1,801.2 1727.1,801.2 1729.1,801.2 1731.1,801.2 1733.1,801.3 1735.1,801.3 1737.1,801.3 1739.1,801.3 1741.1,801.3 1743.1,801.4 1745.1,801.4 1747.1,801.4 1749.1,801.4 1751.1,801.4 1753.1,801.4 1755.1,801.5 1757.1,801.5 1759.1,801.5 1761.1,801.5 1763.1,801.5 1765.1,801.5 1767.1,801.6 1769.1,801.6 1771.2,801.6 1773.2,801.6 1775.2,801.6 1777.2,801.6 1779.2,801.7 1781.2,801.7 1783.2,801.7 1785.2,801.7 1787.2,801.7 1789.2,801.7 1791.2,801.8 1793.2,801.8 1795.2,801.8 1797.2,801.8 1799.2,801.8 1801.2,801.8 1803.2,801.8 1805.2,801.9 1807.2,801.9 1809.2,801.9 1811.2,801.9 1813.2,801.9 1815.2,801.9 1817.2,802.0 1819.2,802.0 1821.2,802.0 1823.2,802.0 1825.2,802.0 1827.2,802.0 1829.2,802.0 1831.2,802.1 1833.2,802.1 1835.2,802.1 1837.2,802.1 1839.2,802.1 1841.2,802.1 1843.2,802.1 1845.3,802.2 1847.3,802.2 1849.3,802.2 1851.3,802.2 1853.3,802.2 1855.3,802.2 1857.3,802.2 1859.3,802.2 1861.3,802.3 1863.3,802.3 1865.3,802.3 1867.3,802.3 1869.3,802.3 1871.3,802.3 1873.3,802.3 1875.3,802.3 1877.3,802.3 1879.3,802.4 1881.3,802.4 1883.3,802.4 1885.3,802.4 1887.3,802.4 1889.3,802.4 1891.3,802.4 1893.3,802.4 1895.3,802.4 1897.3,802.5 1899.3,802.5 1901.3,802.5 1903.3,802.5 1905.3,802.5 1907.3,802.5 1909.3,802.5 1911.3,802.5 1913.3,802.5 1915.3,802.5 1917.4,802.5 1919.4,802.6 1921.4,802.6 1923.4,802.6 1925.4,802.6 1927.4,802.6 1929.4,802.6 1931.4,802.6 1933.4,802.6 1935.4,802.6 1937.4,802.6 1939.4,802.6 1941.4,802.6 1943.4,802.6 1945.4,802.7 1947.4,802.7 1949.4,802.7 1951.4,802.7 1953.4,802.7 1955.4,802.7 1957.4,802.7 1959.4,802.7 1961.4,802.7 1963.4,802.7 1965.4,802.7 1967.4,802.7 1969.4,802.7 1971.4,802.7 1973.4,802.7 1975.4,802.7 1977.4,802.7 1979.4,802.7 1981.4,802.7 1983.4,802.7 1985.4,802.7 1987.4,802.7 1989.5,802.8 1991.5,802.8 1993.5,802.8 1995.5,802.8 1997.5,802.8 1999.5,802.8 2001.5,802.8 2003.5,802.8 2005.5,802.8 2007.5,802.8 2009.5,802.8 2011.5,802.8 2013.5,802.8 2015.5,802.8 2017.5,802.8 2019.5,802.8 2021.5,802.8 2023.5,802.8 2025.5,802.8 2027.5,802.8 2029.5,802.8 2031.5,802.8 2033.5,802.8 2035.5,802.8 2037.5,802.8 2039.5,802.8 2041.5,802.7 2043.5,802.7 2045.5,802.7 2047.5,802.7 2049.5,802.7 2051.5,802.7 2053.5,802.7 2055.5,802.7 2057.5,802.7 2059.5,802.7 2061.5,802.7 2063.6,802.7 2065.6,802.7 2067.6,802.7 2069.6,802.7 2071.6,802.7 2073.6,802.7 2075.6,802.7 2077.6,802.7 2079.6,802.7 2081.6,802.6 2083.6,802.6 2085.6,802.6 2087.6,802.6 2089.6,802.6 2091.6,802.6 2093.6,802.6 2095.6,802.6 2097.6,802.6" fill="none" stroke="#ff0000" stroke-width="8.8" stroke-linejoin="round" stroke-linecap="butt"/>
<path d="M198.0,1136.2 200.0,1136.2 202.0,1136.2 204.0,1136.2 206.0,1136.2 208.0,1136.2 210.0,1136.2 212.0,1136.2 214.0,1136.2 216.0,1136.2 218.0,1136.2 220.0,1136.1 222.0,1136.1 224.0,1136.1 226.0,1136.1 228.0,1136.1 230.0,1136.1 232.0,1136.1 234.0,1136.1 236.0,1136.1 238.0,1136.1 240.0,1136.1 242.0,1136.1 244.1,1136.1 246.1,1136.1 248.1,1136.1 250.1,1136.1 252.1,1136.1 254.1,1136.1 256.1,1136.1 258.1,1136.1 260.1,1136.1 262.1,1136.1 264.1,1136.1 266.1,1136.1 268.1,1136.1 270.1,1136.1 272.1,1136.1 274.1,1136.1 276.1,1136.1 278.1,1136.1 280.1,1136.1 282.1,1136.1 284.1,1136.1 286.1,1136.1 288.1,1136.1 290.1,1136.1 292.1,1136.0 294.1,1136.0 296.1,1136.0 298.1,1136.0 300.1,1136.0 302.1,1136.0 304.1,1136.0 306.1,1136.0 308.1,1136.0 310.1,1136.0 312.1,1136.0 314.1,1136.0 316.1,1136.0 318.1,1136.0 320.1,1136.0 322.1,1136.0 324.1,1136.0 326.1,1136.0 328.1,1136.0 330.2,1136.0 332.2,1135.9 334.2,1135.9 336.2,1135.9 338.2,1135.9 340.2,1135.9 342.2,1135.9 344.2,1135.9 346.2,1135.9 348.2,1135.9 350.2,1135.9 352.2,1135.9 354.2,1135.9 356.2,1135.8 358.2,1135.8 360.2,1135.8 362.2,1135.8 364.2,1135.8 366.2,1135.8 368.2,1135.8 370.2,1135.8 372.2,1135.7 374.2,1135.7 376.2,1135.7 378.2,1135.7 380.2,1135.7 382.2,1135.7 384.2,1135.7 386.2,1135.6 388.2,1135.6 390.2,1135.6 392.2,1135.6 394.2,1135.6 396.2,1135.6 398.2,1135.5 400.2,1135.5 402.2,1135.5 404.2,1135.5 406.2,1135.5 408.2,1135.4 410.2,1135.4 412.2,1135.4 414.2,1135.4 416.2,1135.3 418.3,1135.3 420.3,1135.3 422.3,1135.3 424.3,1135.2 426.3,1135.2 428.3,1135.2 430.3,1135.2 432.3,1135.1 434.3,1135.1 436.3,1135.1 438.3,1135.0 440.3,1135.0 442.3,1135.0 444.3,1134.9 446.3,1134.9 448.3,1134.9 450.3,1134.8 452.3,1134.8 454.3,1134.8 456.3,1134.7 458.3,1134.7 460.3,1134.7 462.3,1134.6 464.3,1134.6 466.3,1134.5 468.3,1134.5 470.3,1134.5 472.3,1134.4 474.3,1134.4 476.3,1134.3 478.3,1134.3 480.3,1134.3 482.3,1134.2 484.3,1134.2 486.3,1134.1 488.3,1134.1 490.3,1134.0 492.3,1134.0 494.3,1133.9 496.3,1133.9 498.3,1133.8 500.3,1133.8 502.3,1133.7 504.3,1133.7 506.3,1133.6 508.3,1133.5 510.3,1133.5 512.3,1133.4 514.3,1133.4 516.3,1133.3 518.3,1133.2 520.3,1133.2 522.3,1133.1 524.3,1133.1 526.3,1133.0 528.3,1132.9 530.4,1132.9 532.4,1132.8 534.4,1132.7 536.4,1132.7 538.4,1132.6 540.4,1132.5 542.4,1132.4 544.4,1132.4 546.4,1132.3 548.4,1132.2 550.4,1132.2 552.4,1132.1 554.4,1132.0 556.4,1131.9 558.4,1131.8 560.4,1131.8 562.4,1131.7 564.4,1131.6 566.4,1131.5 568.4,1131.4 570.4,1131.3 572.4,1131.2 574.4,1131.1 576.4,1131.0 578.4,1130.9 580.4,1130.8 582.4,1130.6 584.4,1130.5 586.4,1130.4 588.4,1130.2 590.4,1130.1 592.3,1129.9 594.3,1129.8 596.3,1129.6 598.3,1129.4 600.3,1129.3 602.3,1129.1 604.3,1128.9 606.3,1128.7 608.3,1128.5 610.3,1128.3 612.3,1128.1 614.3,1127.8 616.3,1127.6 618.2,1127.3 620.2,1127.1 622.2,1126.8 624.2,1126.5 626.2,1126.2 628.2,1125.9 630.1,1125.6 632.1,1125.3 634.1,1125.0 636.1,1124.6 638.0,1124.3 640.0,1123.9 642.0,1123.6 643.9,1123.2 645.9,1122.8 647.9,1122.4 649.8,1122.0 651.8,1121.6 653.8,1121.2 655.7,1120.8 657.7,1120.4 659.6,1119.9 661.6,1119.5 663.5,1119.1 665.5,1118.6 667.4,1118.2 669.4,1117.8 671.3,1117.3 673.3,1116.9 675.2,1116.4 677.2,1115.9 679.1,1115.5 681.1,1115.0 683.0,1114.6 685.0,1114.1 686.9,1113.6 688.9,1113.2 690.8,1112.7 692.8,1112.2 694.7,1111.8 696.7,1111.3 698.6,1110.8 700.5,1110.3 702.5,1109.8 704.4,1109.2 706.3,1108.7 708.3,1108.1 710.2,1107.5 712.1,1106.9 714.0,1106.3 715.9,1105.7 717.8,1105.0 719.6,1104.3 721.5,1103.6 723.4,1102.8 725.2,1102.0 727.0,1101.2 728.9,1100.4 730.7,1099.5 732.4,1098.6 734.2,1097.7 736.0,1096.7 737.7,1095.7 739.4,1094.7 741.2,1093.7 742.9,1092.7 744.6,1091.6 746.3,1090.5 748.0,1089.5 749.7,1088.4 751.3,1087.3 753.0,1086.2 754.7,1085.1 756.4,1084.0 758.0,1082.9 759.7,1081.8 761.4,1080.7 763.1,1079.6 764.8,1078.5 766.4,1077.5 768.1,1076.4 769.9,1075.4 771.6,1074.4 773.3,1073.3 775.1,1072.4 776.8,1071.4 778.6,1070.5 780.4,1069.6 782.2,1068.7 784.0,1067.9 785.8,1067.1 787.7,1066.3 789.5,1065.5 791.4,1064.8 793.2,1064.0 795.1,1063.2 796.9,1062.4 798.7,1061.5 800.5,1060.7 802.3,1059.8 804.1,1058.9 805.9,1058.0 807.7,1057.0 809.4,1056.1 811.2,1055.3 813.1,1054.4 814.9,1053.6 816.7,1052.8 818.6,1052.1 820.5,1051.4 822.4,1050.8 824.3,1050.3 826.3,1049.9 828.3,1049.7 830.3,1049.5 832.3,1049.5 834.3,1049.6 836.3,1049.8 838.3,1050.0 840.3,1050.2 842.2,1050.5 844.2,1050.7 846.2,1050.9 848.2,1051.1 850.2,1051.1 852.2,1051.1 854.2,1050.8 856.2,1050.5 858.1,1050.0 860.0,1049.4 861.9,1048.8 863.8,1048.0 865.6,1047.3 867.5,1046.5 869.4,1045.8 871.2,1045.0 873.1,1044.3 875.0,1043.7 876.9,1043.2 878.9,1042.7 880.8,1042.4 882.8,1042.3 884.8,1042.3 886.8,1042.6 888.8,1042.9 890.7,1043.4 892.7,1044.0 894.6,1044.6 896.5,1045.3 898.4,1045.8 900.3,1046.4 902.3,1046.8 904.3,1047.0 906.3,1047.0 908.2,1046.7 910.2,1046.2 912.0,1045.5 913.8,1044.6 915.6,1043.6 917.3,1042.5 918.9,1041.4 920.5,1040.2 922.1,1039.0 923.6,1037.7 925.2,1036.4 926.6,1035.0 928.1,1033.6 929.5,1032.2 930.8,1030.7 932.1,1029.2 933.4,1027.7 934.7,1026.1 935.9,1024.6 937.1,1023.0 938.3,1021.3 939.4,1019.7 940.5,1018.0 941.6,1016.3 942.7,1014.7 943.8,1013.0 944.8,1011.2 945.8,1009.5 946.8,1007.8 947.8,1006.0 948.8,1004.3 949.8,1002.5 950.7,1000.8 951.7,999.0 952.6,997.3 953.6,995.5 954.5,993.7 955.5,992.0 956.4,990.2 957.4,988.4 958.3,986.7 959.3,984.9 960.2,983.2 961.2,981.4 962.2,979.7 963.2,977.9 964.2,976.2 965.2,974.5 966.2,972.8 967.3,971.0 968.3,969.3 969.4,967.6 970.4,965.9 971.5,964.2 972.5,962.5 973.6,960.8 974.7,959.2 975.8,957.5 976.9,955.8 978.0,954.1 979.1,952.5 980.2,950.8 981.3,949.1 982.4,947.5 983.6,945.8 984.7,944.2 985.9,942.5 987.0,940.9 988.2,939.3 989.3,937.6 990.5,936.0 991.7,934.4 992.8,932.8 994.0,931.1 995.2,929.5 996.4,927.9 997.6,926.3 998.8,924.7 1000.0,923.1 1001.2,921.5 1002.4,919.9 1003.6,918.3 1004.8,916.7 1006.1,915.1 1007.3,913.6 1008.5,912.0 1009.8,910.4 1011.1,908.9 1012.3,907.3 1013.6,905.8 1014.9,904.3 1016.2,902.7 1017.5,901.2 1018.8,899.7 1020.2,898.3 1021.5,896.8 1022.9,895.3 1024.3,893.9 1025.7,892.4 1027.1,891.0 1028.5,889.6 1030.0,888.2 1031.5,886.9 1033.0,885.5 1034.5,884.2 1036.0,882.9 1037.5,881.6 1039.1,880.4 1040.7,879.2 1042.3,878.0 1043.9,876.8 1045.5,875.6 1047.2,874.5 1048.9,873.4 1050.6,872.4 1052.3,871.4 1054.0,870.4 1055.8,869.4 1057.6,868.5 1059.4,867.6 1061.2,866.8 1063.0,866.0 1064.9,865.2 1066.7,864.5 1068.6,863.8 1070.5,863.2 1072.4,862.6 1074.4,862.0 1076.3,861.5 1078.2,861.0 1080.2,860.6 1082.2,860.2 1084.1,859.9 1086.1,859.6 1088.1,859.5 1090.1,859.4 1092.1,859.3 1094.1,859.4 1096.1,859.6 1098.1,859.9 1100.0,860.4 1101.9,861.0 1103.8,861.7 1105.6,862.6 1107.4,863.6 1109.0,864.6 1110.7,865.8 1112.2,867.1 1113.7,868.4 1115.2,869.8 1116.6,871.2 1117.9,872.7 1119.2,874.2 1120.5,875.8 1121.7,877.3 1122.9,879.0 1124.1,880.6 1125.2,882.2 1126.3,883.9 1127.4,885.6 1128.4,887.3 1129.4,889.0 1130.4,890.8 1131.4,892.5 1132.3,894.3 1133.2,896.1 1134.1,897.9 1134.9,899.7 1135.7,901.6 1136.5,903.4 1137.3,905.3 1138.0,907.1 1138.7,909.0 1139.4,910.9 1140.1,912.7 1140.8,914.6 1141.4,916.5 1142.0,918.4 1142.6,920.3 1143.2,922.3 1143.8,924.2 1144.3,926.1 1144.9,928.0 1145.4,930.0 1145.9,931.9 1146.4,933.8 1146.9,935.8 1147.4,937.7 1147.8,939.7 1148.3,941.6 1148.7,943.6 1149.2,945.5 1149.6,947.5 1150.1,949.4 1150.5,951.4 1150.9,953.3 1151.3,955.3 1151.8,957.3 1152.2,959.2 1152.6,961.2 1153.0,963.1 1153.4,965.1 1153.9,967.1 1154.3,969.0 1154.7,971.0 1155.1,972.9 1155.5,974.9 1155.9,976.8 1156.4,978.8 1156.8,980.8 1157.2,982.7 1157.6,984.7 1158.1,986.6 1158.5,988.6 1159.0,990.5 1159.4,992.5 1159.8,994.4 1160.3,996.4 1160.8,998.3 1161.2,1000.3 1161.7,1002.2 1162.2,1004.2 1162.7,1006.1 1163.2,1008.1 1163.7,1010.0 1164.2,1011.9 1164.7,1013.9 1165.2,1015.8 1165.8,1017.7 1166.3,1019.7 1166.9,1021.6 1167.4,1023.5 1168.0,1025.4 1168.6,1027.3 1169.2,1029.2 1169.8,1031.1 1170.4,1033.1 1171.0,1034.9 1171.7,1036.8 1172.3,1038.7 1173.0,1040.6 1173.7,1042.5 1174.4,1044.4 1175.1,1046.3 1175.8,1048.1 1176.6,1050.0 1177.3,1051.8 1178.1,1053.7 1178.9,1055.5 1179.7,1057.3 1180.6,1059.2 1181.4,1061.0 1182.3,1062.8 1183.2,1064.5 1184.2,1066.3 1185.1,1068.1 1186.2,1069.8 1187.2,1071.5 1188.3,1073.2 1189.4,1074.9 1190.5,1076.5 1191.7,1078.1 1192.9,1079.7 1194.2,1081.3 1195.5,1082.8 1196.8,1084.3 1198.2,1085.7 1199.7,1087.1 1201.1,1088.4 1202.7,1089.8 1204.2,1091.0 1205.8,1092.3 1207.4,1093.5 1209.0,1094.6 1210.7,1095.7 1212.4,1096.8 1214.1,1097.8 1215.8,1098.8 1217.6,1099.8 1219.3,1100.7 1221.1,1101.6 1222.9,1102.5 1224.8,1103.3 1226.6,1104.1 1228.5,1104.9 1230.3,1105.6 1232.2,1106.3 1234.1,1107.0 1236.0,1107.6 1237.9,1108.2 1239.8,1108.8 1241.7,1109.3 1243.7,1109.9 1245.6,1110.3 1247.6,1110.8 1249.5,1111.2 1251.5,1111.7 1253.4,1112.1 1255.4,1112.4 1257.4,1112.8 1259.4,1113.1 1261.3,1113.4 1263.3,1113.7 1265.3,1114.0 1267.3,1114.2 1269.3,1114.4 1271.3,1114.7 1273.3,1114.9 1275.3,1115.1 1277.2,1115.2 1279.2,1115.4 1281.2,1115.6 1283.2,1115.7 1285.2,1115.9 1287.2,1116.0 1289.2,1116.2 1291.2,1116.3 1293.2,1116.4 1295.2,1116.5 1297.2,1116.6 1299.2,1116.8 1301.2,1116.9 1303.2,1117.0 1305.2,1117.1 1307.2,1117.2 1309.2,1117.3 1311.2,1117.3 1313.2,1117.4 1315.2,1117.5 1317.2,1117.6 1319.2,1117.7 1321.2,1117.8 1323.2,1117.8 1325.2,1117.9 1327.2,1118.0 1329.2,1118.0 1331.2,1118.1 1333.2,1118.2 1335.2,1118.2 1337.2,1118.3 1339.2,1118.4 1341.2,1118.4 1343.2,1118.5 1345.2,1118.6 1347.2,1118.6 1349.2,1118.7 1351.2,1118.7 1353.2,1118.8 1355.2,1118.9 1357.2,1118.9 1359.2,1119.0 1361.2,1119.1 1363.2,1119.1 1365.2,1119.2 1367.2,1119.3 1369.2,1119.3 1371.3,1119.4 1373.3,1119.5 1375.3,1119.6 1377.3,1119.6 1379.3,1119.7 1381.3,1119.8 1383.3,1119.9 1385.3,1120.0 1387.3,1120.0 1389.3,1120.1 1391.3,1120.2 1393.3,1120.3 1395.3,1120.4 1397.3,1120.5 1399.3,1120.6 1401.3,1120.7 1403.3,1120.8 1405.3,1121.0 1407.3,1121.1 1409.3,1121.2 1411.3,1121.3 1413.3,1121.4 1415.2,1121.5 1417.2,1121.7 1419.2,1121.8 1421.2,1121.9 1423.2,1122.0 1425.2,1122.2 1427.2,1122.3 1429.2,1122.4 1431.2,1122.5 1433.2,1122.7 1435.2,1122.8 1437.2,1122.9 1439.2,1123.1 1441.2,1123.2 1443.2,1123.3 1445.2,1123.5 1447.2,1123.6 1449.2,1123.8 1451.2,1123.9 1453.2,1124.0 1455.2,1124.2 1457.2,1124.3 1459.2,1124.5 1461.2,1124.6 1463.2,1124.7 1465.2,1124.9 1467.2,1125.0 1469.2,1125.2 1471.2,1125.3 1473.2,1125.5 1475.2,1125.6 1477.2,1125.7 1479.2,1125.9 1481.2,1126.0 1483.2,1126.2 1485.2,1126.3 1487.2,1126.4 1489.2,1126.6 1491.2,1126.7 1493.2,1126.9 1495.2,1127.0 1497.2,1127.1 1499.2,1127.3 1501.1,1127.4 1503.1,1127.5 1505.1,1127.7 1507.1,1127.8 1509.1,1127.9 1511.1,1128.1 1513.1,1128.2 1515.1,1128.3 1517.1,1128.4 1519.1,1128.6 1521.1,1128.7 1523.1,1128.8 1525.1,1128.9 1527.1,1129.0 1529.1,1129.1 1531.1,1129.3 1533.1,1129.4 1535.1,1129.5 1537.1,1129.6 1539.1,1129.7 1541.1,1129.8 1543.1,1129.9 1545.1,1130.0 1547.1,1130.1 1549.1,1130.2 1551.1,1130.3 1553.1,1130.4 1555.1,1130.5 1557.1,1130.6 1559.1,1130.6 1561.1,1130.7 1563.1,1130.8 1565.1,1130.9 1567.1,1131.0 1569.1,1131.1 1571.1,1131.1 1573.1,1131.2 1575.1,1131.3 1577.1,1131.4 1579.1,1131.4 1581.1,1131.5 1583.1,1131.6 1585.1,1131.6 1587.1,1131.7 1589.1,1131.8 1591.1,1131.8 1593.1,1131.9 1595.1,1131.9 1597.1,1132.0 1599.1,1132.1 1601.1,1132.1 1603.1,1132.2 1605.1,1132.2 1607.2,1132.3 1609.2,1132.3 1611.2,1132.4 1613.2,1132.4 1615.2,1132.5 1617.2,1132.5 1619.2,1132.6 1621.2,1132.6 1623.2,1132.7 1625.2,1132.7 1627.2,1132.7 1629.2,1132.8 1631.2,1132.8 1633.2,1132.9 1635.2,1132.9 1637.2,1132.9 1639.2,1133.0 1641.2,1133.0 1643.2,1133.0 1645.2,1133.1 1647.2,1133.1 1649.2,1133.1 1651.2,1133.2 1653.2,1133.2 1655.2,1133.2 1657.2,1133.3 1659.2,1133.3 1661.2,1133.3 1663.2,1133.4 1665.2,1133.4 1667.2,1133.4 1669.2,1133.4 1671.2,1133.5 1673.2,1133.5 1675.2,1133.5 1677.2,1133.5 1679.2,1133.6 1681.2,1133.6 1683.2,1133.6 1685.2,1133.6 1687.2,1133.7 1689.2,1133.7 1691.2,1133.7 1693.2,1133.7 1695.2,1133.7 1697.2,1133.8 1699.2,1133.8 1701.2,1133.8 1703.2,1133.8 1705.2,1133.8 1707.3,1133.9 1709.3,1133.9 1711.3,1133.9 1713.3,1133.9 1715.3,1133.9 1717.3,1133.9 1719.3,1134.0 1721.3,1134.0 1723.3,1134.0 1725.3,1134.0 1727.3,1134.0 1729.3,1134.0 1731.3,1134.0 1733.3,1134.1 1735.3,1134.1 1737.3,1134.1 1739.3,1134.1 1741.3,1134.1 1743.3,1134.1 1745.3,1134.1 1747.3,1134.1 1749.3,1134.1 1751.3,1134.2 1753.3,1134.2 1755.3,1134.2 1757.3,1134.2 1759.3,1134.2 1761.3,1134.2 1763.3,1134.2 1765.3,1134.2 1767.3,1134.2 1769.3,1134.2 1771.3,1134.2 1773.3,1134.2 1775.3,1134.3 1777.3,1134.3 1779.3,1134.3 1781.3,1134.3 1783.3,1134.3 1785.3,1134.3 1787.3,1134.3 1789.3,1134.3 1791.3,1134.3 1793.4,1134.3 1795.4,1134.3 1797.4,1134.3 1799.4,1134.3 1801.4,1134.3 1803.4,1134.3 1805.4,1134.3 1807.4,1134.3 1809.4,1134.3 1811.4,1134.3 1813.4,1134.3 1815.4,1134.3 1817.4,1134.3 1819.4,1134.3 1821.4,1134.3 1823.4,1134.3 1825.4,1134.3 1827.4,1134.3 1829.4,1134.3 1831.4,1134.3 1833.4,1134.3 1835.4,1134.3 1837.4,1134.3 1839.4,1134.3 1841.4,1134.3 1843.4,1134.3 1845.4,1134.3 1847.4,1134.3 1849.4,1134.3 1851.4,1134.3 1853.4,1134.3 1855.4,1134.3 1857.4,1134.3 1859.4,1134.3 1861.4,1134.3 1863.4,1134.3 1865.4,1134.3 1867.4,1134.3 1869.4,1134.3 1871.4,1134.3 1873.4,1134.3 1875.4,1134.3 1877.4,1134.3 1879.4,1134.3 1881.5,1134.3 1883.5,1134.3 1885.5,1134.3 1887.5,1134.3 1889.5,1134.3 1891.5,1134.3 1893.5,1134.3 1895.5,1134.3 1897.5,1134.3 1899.5,1134.3 1901.5,1134.3 1903.5,1134.3 1905.5,1134.3 1907.5,1134.3 1909.5,1134.3 1911.5,1134.3 1913.5,1134.3 1915.5,1134.3 1917.5,1134.3 1919.5,1134.3 1921.5,1134.3 1923.5,1134.3 1925.5,1134.3 1927.5,1134.3 1929.5,1134.3 1931.5,1134.3 1933.5,1134.3 1935.5,1134.3 1937.5,1134.3 1939.5,1134.3 1941.5,1134.3 1943.5,1134.3 1945.5,1134.3 1947.5,1134.3 1949.5,1134.3 1951.5,1134.3 1953.5,1134.3 1955.5,1134.3 1957.5,1134.3 1959.5,1134.3 1961.5,1134.3 1963.5,1134.3 1965.5,1134.3 1967.6,1134.3 1969.6,1134.3 1971.6,1134.3 1973.6,1134.3 1975.6,1134.3 1977.6,1134.3 1979.6,1134.3 1981.6,1134.3 1983.6,1134.3 1985.6,1134.3 1987.6,1134.3 1989.6,1134.3 1991.6,1134.3 1993.6,1134.3 1995.6,1134.3 1997.6,1134.3 1999.6,1134.3 2001.6,1134.3 2003.6,1134.3 2005.6,1134.3 2007.6,1134.3 2009.6,1134.4 2011.6,1134.4 2013.6,1134.4 2015.6,1134.4 2017.6,1134.4 2019.6,1134.4 2021.6,1134.4 2023.6,1134.4 2025.6,1134.4 2027.6,1134.4 2029.6,1134.4 2031.6,1134.4 2033.6,1134.4 2035.6,1134.4 2037.6,1134.5 2039.6,1134.5 2041.6,1134.5 2043.6,1134.5 2045.6,1134.5 2047.6,1134.5 2049.6,1134.5 2051.6,1134.5 2053.7,1134.5 2055.7,1134.6 2057.7,1134.6 2059.7,1134.6 2061.7,1134.6 2063.7,1134.6 2065.7,1134.6 2067.7,1134.6 2069.7,1134.7 2071.7,1134.7 2073.7,1134.7 2075.7,1134.7 2077.7,1134.7 2079.7,1134.7 2081.7,1134.8 2083.7,1134.8 2085.7,1134.8 2087.7,1134.8 2089.7,1134.8 2091.7,1134.8 2093.7,1134.9 2095.7,1134.9 2097.7,1134.9" fill="none" stroke="#0000ff" stroke-width="8.8" stroke-linejoin="round" stroke-linecap="butt"/>
<path d="M198.0,1489.4 200.0,1489.4 202.0,1489.4 204.0,1489.4 206.0,1489.3 208.0,1489.3 210.0,1489.3 212.0,1489.3 214.0,1489.3 216.0,1489.3 218.0,1489.3 220.0,1489.3 222.0,1489.2 224.0,1489.2 226.0,1489.2 228.0,1489.2 230.0,1489.2 232.0,1489.2 234.0,1489.2 236.0,1489.2 238.0,1489.2 240.0,1489.1 242.0,1489.1 244.0,1489.1 246.0,1489.1 248.0,1489.1 250.1,1489.1 252.1,1489.1 254.1,1489.1 256.1,1489.1 258.1,1489.1 260.1,1489.1 262.1,1489.1 264.1,1489.0 266.1,1489.0 268.1,1489.0 270.1,1489.0 272.1,1489.0 274.1,1489.0 276.1,1489.0 278.1,1489.0 280.1,1489.0 282.1,1489.0 284.1,1489.0 286.1,1489.0 288.1,1489.0 290.1,1489.0 292.1,1489.0 294.1,1489.0 296.1,1488.9 298.1,1488.9 300.1,1488.9 302.1,1488.9 304.1,1488.9 306.1,1488.9 308.1,1488.9 310.1,1488.9 312.1,1488.9 314.1,1488.9 316.1,1488.9 318.1,1488.9 320.1,1488.9 322.1,1488.9 324.1,1488.9 326.1,1488.9 328.1,1488.9 330.1,1488.9 332.1,1488.9 334.1,1488.9 336.1,1488.9 338.2,1488.9 340.2,1488.9 342.2,1488.9 344.2,1488.9 346.2,1488.9 348.2,1488.9 350.2,1488.8 352.2,1488.8 354.2,1488.8 356.2,1488.8 358.2,1488.8 360.2,1488.8 362.2,1488.8 364.2,1488.8 366.2,1488.8 368.2,1488.8 370.2,1488.8 372.2,1488.8 374.2,1488.8 376.2,1488.8 378.2,1488.8 380.2,1488.8 382.2,1488.8 384.2,1488.8 386.2,1488.8 388.2,1488.8 390.2,1488.8 392.2,1488.8 394.2,1488.8 396.2,1488.8 398.2,1488.8 400.2,1488.8 402.2,1488.8 404.2,1488.8 406.2,1488.8 408.2,1488.8 410.2,1488.8 412.2,1488.8 414.2,1488.8 416.2,1488.8 418.2,1488.8 420.2,1488.8 422.2,1488.8 424.2,1488.8 426.2,1488.8 428.3,1488.8 430.3,1488.8 432.3,1488.8 434.3,1488.8 436.3,1488.8 438.3,1488.8 440.3,1488.8 442.3,1488.8 444.3,1488.8 446.3,1488.8 448.3,1488.8 450.3,1488.8 452.3,1488.8 454.3,1488.8 456.3,1488.8 458.3,1488.8 460.3,1488.8 462.3,1488.8 464.3,1488.8 466.3,1488.8 468.3,1488.8 470.3,1488.8 472.3,1488.8 474.3,1488.8 476.3,1488.8 478.3,1488.8 480.3,1488.8 482.3,1488.8 484.3,1488.8 486.3,1488.8 488.3,1488.8 490.3,1488.8 492.3,1488.8 494.3,1488.8 496.3,1488.8 498.3,1488.8 500.3,1488.8 502.3,1488.7 504.3,1488.7 506.3,1488.7 508.3,1488.7 510.3,1488.7 512.3,1488.7 514.3,1488.7 516.4,1488.7 518.4,1488.7 520.4,1488.7 522.4,1488.7 524.4,1488.7 526.4,1488.7 528.4,1488.7 530.4,1488.7 532.4,1488.7 534.4,1488.7 536.4,1488.7 538.4,1488.7 540.4,1488.7 542.4,1488.7 544.4,1488.7 546.4,1488.7 548.4,1488.7 550.4,1488.7 552.4,1488.7 554.4,1488.7 556.4,1488.7 558.4,1488.6 560.4,1488.6 562.4,1488.6 564.4,1488.6 566.4,1488.6 568.4,1488.6 570.4,1488.6 572.4,1488.6 574.4,1488.6 576.4,1488.6 578.4,1488.6 580.4,1488.6 582.4,1488.6 584.4,1488.6 586.4,1488.6 588.4,1488.6 590.4,1488.5 592.4,1488.5 594.4,1488.5 596.4,1488.5 598.4,1488.5 600.4,1488.5 602.4,1488.5 604.4,1488.5 606.5,1488.5 608.5,1488.5 610.5,1488.5 612.5,1488.5 614.5,1488.4 616.5,1488.4 618.5,1488.4 620.5,1488.4 622.5,1488.4 624.5,1488.4 626.5,1488.4 628.5,1488.4 630.5,1488.4 632.5,1488.4 634.5,1488.3 636.5,1488.3 638.5,1488.3 640.5,1488.3 642.5,1488.3 644.5,1488.3 646.5,1488.3 648.5,1488.3 650.5,1488.2 652.5,1488.2 654.5,1488.2 656.5,1488.2 658.5,1488.2 660.5,1488.2 662.5,1488.2 664.5,1488.1 666.5,1488.1 668.5,1488.1 670.5,1488.1 672.5,1488.1 674.5,1488.1 676.5,1488.1 678.5,1488.0 680.5,1488.0 682.5,1488.0 684.5,1488.0 686.5,1488.0 688.5,1487.9 690.5,1487.9 692.5,1487.9 694.5,1487.9 696.6,1487.9 698.6,1487.9 700.6,1487.8 702.6,1487.8 704.6,1487.8 706.6,1487.8 708.6,1487.8 710.6,1487.7 712.6,1487.7 714.6,1487.7 716.6,1487.7 718.6,1487.7 720.6,1487.6 722.6,1487.6 724.6,1487.6 726.6,1487.6 728.6,1487.5 730.6,1487.5 732.6,1487.5 734.6,1487.5 736.6,1487.4 738.6,1487.4 740.6,1487.4 742.6,1487.4 744.6,1487.3 746.6,1487.3 748.6,1487.3 750.6,1487.3 752.6,1487.2 754.6,1487.2 756.6,1487.2 758.6,1487.2 760.6,1487.1 762.6,1487.1 764.6,1487.1 766.6,1487.0 768.6,1487.0 770.6,1487.0 772.6,1486.9 774.6,1486.9 776.6,1486.9 778.6,1486.9 780.6,1486.8 782.6,1486.8 784.6,1486.8 786.6,1486.7 788.6,1486.7 790.6,1486.7 792.7,1486.6 794.7,1486.6 796.7,1486.6 798.7,1486.5 800.7,1486.5 802.7,1486.4 804.7,1486.4 806.7,1486.4 808.7,1486.3 810.7,1486.3 812.7,1486.2 814.7,1486.1 816.7,1486.1 818.7,1486.0 820.7,1485.9 822.7,1485.8 824.7,1485.7 826.7,1485.6 828.7,1485.5 830.7,1485.4 832.7,1485.3 834.7,1485.1 836.7,1485.0 838.7,1484.8 840.7,1484.6 842.6,1484.4 844.6,1484.2 846.6,1484.0 848.6,1483.8 850.6,1483.5 852.6,1483.3 854.6,1483.0 856.6,1482.7 858.5,1482.4 860.5,1482.1 862.5,1481.7 864.5,1481.4 866.4,1481.0 868.4,1480.6 870.3,1480.2 872.3,1479.8 874.2,1479.3 876.2,1478.9 878.1,1478.4 880.1,1477.8 882.0,1477.3 883.9,1476.7 885.8,1476.2 887.7,1475.6 889.6,1474.9 891.5,1474.3 893.4,1473.6 895.3,1472.9 897.1,1472.1 899.0,1471.4 900.8,1470.6 902.7,1469.7 904.5,1468.9 906.3,1468.0 908.0,1467.1 909.8,1466.1 911.5,1465.1 913.2,1464.1 914.9,1463.0 916.6,1461.9 918.3,1460.8 919.9,1459.6 921.5,1458.4 923.1,1457.2 924.6,1455.9 926.2,1454.6 927.7,1453.3 929.1,1452.0 930.6,1450.6 932.0,1449.2 933.4,1447.7 934.8,1446.3 936.1,1444.8 937.5,1443.3 938.8,1441.8 940.0,1440.2 941.3,1438.7 942.5,1437.1 943.7,1435.5 944.8,1433.8 946.0,1432.2 947.1,1430.5 948.2,1428.9 949.3,1427.2 950.3,1425.4 951.3,1423.7 952.3,1422.0 953.3,1420.2 954.3,1418.5 955.2,1416.7 956.2,1415.0 957.1,1413.2 958.0,1411.4 958.9,1409.6 959.7,1407.8 960.6,1406.0 961.5,1404.2 962.4,1402.4 963.2,1400.6 964.1,1398.8 964.9,1396.9 965.7,1395.1 966.5,1393.3 967.3,1391.5 968.1,1389.6 968.9,1387.8 969.6,1385.9 970.4,1384.0 971.1,1382.2 971.8,1380.3 972.4,1378.4 973.1,1376.5 973.7,1374.6 974.3,1372.7 974.9,1370.8 975.4,1368.9 976.0,1366.9 976.5,1365.0 977.1,1363.1 977.6,1361.1 978.1,1359.2 978.5,1357.2 979.0,1355.3 979.5,1353.4 979.9,1351.4 980.4,1349.5 980.8,1347.5 981.3,1345.5 981.7,1343.6 982.1,1341.6 982.5,1339.7 982.9,1337.7 983.4,1335.8 983.8,1333.8 984.2,1331.8 984.6,1329.9 985.0,1327.9 985.4,1326.0 985.9,1324.0 986.3,1322.1 986.7,1320.1 987.2,1318.1 987.6,1316.2 988.1,1314.2 988.5,1312.3 989.0,1310.3 989.5,1308.4 990.0,1306.5 990.5,1304.5 991.0,1302.6 991.6,1300.7 992.1,1298.8 992.7,1296.8 993.3,1294.9 993.9,1293.0 994.5,1291.1 995.1,1289.2 995.8,1287.3 996.4,1285.4 997.1,1283.5 997.8,1281.6 998.5,1279.8 999.2,1277.9 999.9,1276.0 1000.6,1274.1 1001.3,1272.3 1002.1,1270.4 1002.8,1268.6 1003.6,1266.7 1004.4,1264.9 1005.2,1263.0 1006.0,1261.2 1006.8,1259.4 1007.6,1257.6 1008.5,1255.7 1009.3,1253.9 1010.2,1252.1 1011.0,1250.3 1011.9,1248.5 1012.8,1246.7 1013.7,1244.9 1014.6,1243.1 1015.5,1241.3 1016.4,1239.5 1017.3,1237.8 1018.2,1236.0 1019.2,1234.2 1020.1,1232.5 1021.1,1230.7 1022.1,1229.0 1023.1,1227.3 1024.2,1225.6 1025.2,1223.9 1026.3,1222.2 1027.4,1220.5 1028.6,1218.9 1029.7,1217.2 1030.9,1215.6 1032.1,1214.0 1033.4,1212.5 1034.7,1210.9 1036.0,1209.4 1037.3,1207.9 1038.7,1206.5 1040.1,1205.1 1041.6,1203.7 1043.0,1202.3 1044.5,1201.0 1046.1,1199.7 1047.6,1198.5 1049.2,1197.2 1050.8,1196.1 1052.5,1194.9 1054.2,1193.9 1055.9,1192.8 1057.6,1191.8 1059.4,1190.9 1061.2,1189.9 1063.0,1189.1 1064.8,1188.3 1066.7,1187.5 1068.5,1186.8 1070.4,1186.1 1072.3,1185.5 1074.2,1184.9 1076.2,1184.4 1078.1,1183.9 1080.1,1183.5 1082.0,1183.1 1084.0,1182.7 1086.0,1182.4 1088.0,1182.1 1089.9,1181.9 1091.9,1181.7 1093.9,1181.6 1095.9,1181.5 1097.9,1181.4 1099.9,1181.4 1101.9,1181.5 1103.9,1181.5 1105.9,1181.6 1107.9,1181.8 1109.9,1181.9 1111.9,1182.1 1113.9,1182.4 1115.9,1182.7 1117.9,1183.0 1119.8,1183.3 1121.8,1183.7 1123.8,1184.1 1125.7,1184.6 1127.7,1185.1 1129.6,1185.6 1131.5,1186.2 1133.4,1186.7 1135.3,1187.4 1137.2,1188.0 1139.1,1188.7 1141.0,1189.4 1142.8,1190.1 1144.7,1190.9 1146.5,1191.7 1148.4,1192.5 1150.2,1193.4 1152.0,1194.3 1153.7,1195.2 1155.5,1196.1 1157.3,1197.1 1159.0,1198.1 1160.7,1199.1 1162.4,1200.1 1164.1,1201.2 1165.8,1202.3 1167.5,1203.4 1169.1,1204.6 1170.7,1205.8 1172.3,1207.0 1173.9,1208.2 1175.5,1209.4 1177.0,1210.7 1178.5,1212.0 1180.0,1213.3 1181.5,1214.7 1183.0,1216.1 1184.4,1217.4 1185.9,1218.8 1187.3,1220.3 1188.6,1221.7 1190.0,1223.2 1191.4,1224.7 1192.7,1226.2 1194.0,1227.7 1195.3,1229.2 1196.6,1230.7 1197.8,1232.3 1199.1,1233.9 1200.3,1235.5 1201.5,1237.1 1202.7,1238.7 1203.9,1240.3 1205.0,1241.9 1206.2,1243.6 1207.3,1245.2 1208.4,1246.9 1209.5,1248.5 1210.6,1250.2 1211.7,1251.9 1212.8,1253.6 1213.8,1255.3 1214.9,1257.0 1215.9,1258.7 1217.0,1260.4 1218.0,1262.1 1219.0,1263.9 1220.0,1265.6 1221.0,1267.3 1222.0,1269.1 1222.9,1270.8 1223.9,1272.6 1224.9,1274.3 1225.8,1276.1 1226.8,1277.9 1227.8,1279.6 1228.7,1281.4 1229.6,1283.1 1230.6,1284.9 1231.5,1286.7 1232.5,1288.5 1233.4,1290.2 1234.3,1292.0 1235.3,1293.8 1236.2,1295.5 1237.1,1297.3 1238.0,1299.1 1239.0,1300.9 1239.9,1302.6 1240.8,1304.4 1241.8,1306.2 1242.7,1307.9 1243.7,1309.7 1244.6,1311.5 1245.6,1313.2 1246.5,1315.0 1247.4,1316.8 1248.4,1318.5 1249.3,1320.3 1250.3,1322.1 1251.3,1323.8 1252.2,1325.6 1253.2,1327.3 1254.1,1329.1 1255.1,1330.8 1256.1,1332.6 1257.0,1334.3 1258.0,1336.1 1259.0,1337.8 1260.0,1339.6 1260.9,1341.3 1261.9,1343.1 1262.9,1344.8 1263.9,1346.6 1264.9,1348.3 1265.9,1350.0 1266.9,1351.8 1267.9,1353.5 1268.9,1355.2 1269.9,1357.0 1270.9,1358.7 1271.9,1360.4 1272.9,1362.2 1273.9,1363.9 1275.0,1365.6 1276.0,1367.3 1277.0,1369.0 1278.1,1370.8 1279.1,1372.5 1280.1,1374.2 1281.2,1375.9 1282.2,1377.6 1283.3,1379.3 1284.3,1381.0 1285.4,1382.7 1286.5,1384.4 1287.5,1386.1 1288.6,1387.8 1289.7,1389.5 1290.7,1391.2 1291.8,1392.8 1292.9,1394.5 1294.0,1396.2 1295.1,1397.9 1296.3,1399.5 1297.4,1401.2 1298.5,1402.8 1299.7,1404.5 1300.8,1406.1 1302.0,1407.7 1303.1,1409.4 1304.3,1411.0 1305.5,1412.6 1306.7,1414.2 1307.9,1415.8 1309.1,1417.4 1310.3,1419.0 1311.6,1420.5 1312.8,1422.1 1314.1,1423.7 1315.4,1425.2 1316.7,1426.7 1318.0,1428.3 1319.3,1429.8 1320.6,1431.3 1321.9,1432.8 1323.3,1434.2 1324.7,1435.7 1326.0,1437.1 1327.4,1438.6 1328.9,1440.0 1330.3,1441.4 1331.7,1442.8 1333.2,1444.2 1334.6,1445.5 1336.1,1446.9 1337.6,1448.2 1339.2,1449.5 1340.7,1450.8 1342.3,1452.0 1343.9,1453.2 1345.5,1454.4 1347.1,1455.5 1348.8,1456.6 1350.5,1457.7 1352.3,1458.7 1354.0,1459.6 1355.8,1460.5 1357.7,1461.3 1359.5,1462.0 1361.4,1462.7 1363.3,1463.3 1365.3,1463.8 1367.2,1464.3 1369.1,1464.8 1371.1,1465.2 1373.1,1465.5 1375.0,1465.9 1377.0,1466.2 1379.0,1466.6 1381.0,1466.9 1382.9,1467.2 1384.9,1467.5 1386.9,1467.8 1388.9,1468.1 1390.9,1468.3 1392.9,1468.6 1394.8,1468.9 1396.8,1469.1 1398.8,1469.4 1400.8,1469.6 1402.8,1469.8 1404.8,1470.1 1406.8,1470.3 1408.8,1470.5 1410.8,1470.7 1412.7,1470.9 1414.7,1471.1 1416.7,1471.3 1418.7,1471.4 1420.7,1471.6 1422.7,1471.8 1424.7,1471.9 1426.7,1472.1 1428.7,1472.2 1430.7,1472.4 1432.7,1472.5 1434.7,1472.6 1436.7,1472.8 1438.7,1472.9 1440.7,1473.0 1442.7,1473.1 1444.7,1473.2 1446.7,1473.3 1448.7,1473.4 1450.7,1473.5 1452.7,1473.6 1454.7,1473.6 1456.7,1473.7 1458.7,1473.8 1460.7,1473.9 1462.7,1473.9 1464.7,1474.0 1466.7,1474.1 1468.7,1474.1 1470.7,1474.2 1472.7,1474.2 1474.7,1474.2 1476.7,1474.3 1478.7,1474.3 1480.7,1474.4 1482.7,1474.4 1484.7,1474.4 1486.7,1474.5 1488.7,1474.5 1490.7,1474.5 1492.7,1474.5 1494.7,1474.6 1496.7,1474.6 1498.7,1474.6 1500.7,1474.6 1502.7,1474.6 1504.7,1474.6 1506.7,1474.7 1508.7,1474.7 1510.7,1474.7 1512.7,1474.7 1514.8,1474.7 1516.8,1474.7 1518.8,1474.7 1520.8,1474.7 1522.8,1474.7 1524.8,1474.7 1526.8,1474.7 1528.8,1474.8 1530.8,1474.8 1532.8,1474.8 1534.8,1474.8 1536.8,1474.8 1538.8,1474.8 1540.8,1474.8 1542.8,1474.8 1544.8,1474.8 1546.8,1474.8 1548.8,1474.8 1550.8,1474.8 1552.8,1474.9 1554.8,1474.9 1556.8,1474.9 1558.8,1474.9 1560.8,1474.9 1562.8,1474.9 1564.8,1474.9 1566.8,1474.9 1568.8,1474.9 1570.8,1474.9 1572.8,1474.9 1574.8,1474.9 1576.8,1475.0 1578.8,1475.0 1580.8,1475.0 1582.8,1475.0 1584.8,1475.0 1586.8,1475.0 1588.8,1475.0 1590.8,1475.0 1592.8,1475.0 1594.8,1475.0 1596.8,1475.1 1598.8,1475.1 1600.8,1475.1 1602.9,1475.1 1604.9,1475.1 1606.9,1475.1 1608.9,1475.1 1610.9,1475.1 1612.9,1475.1 1614.9,1475.1 1616.9,1475.1 1618.9,1475.2 1620.9,1475.2 1622.9,1475.2 1624.9,1475.2 1626.9,1475.2 1628.9,1475.2 1630.9,1475.2 1632.9,1475.2 1634.9,1475.2 1636.9,1475.2 1638.9,1475.3 1640.9,1475.3 1642.9,1475.3 1644.9,1475.3 1646.9,1475.3 1648.9,1475.3 1650.9,1475.3 1652.9,1475.3 1654.9,1475.3 1656.9,1475.3 1658.9,1475.4 1660.9,1475.4 1662.9,1475.4 1664.9,1475.4 1666.9,1475.4 1668.9,1475.4 1670.9,1475.4 1672.9,1475.4 1674.9,1475.4 1676.9,1475.4 1678.9,1475.5 1680.9,1475.5 1682.9,1475.5 1684.9,1475.5 1686.9,1475.5 1688.9,1475.5 1690.9,1475.5 1693.0,1475.5 1695.0,1475.5 1697.0,1475.5 1699.0,1475.6 1701.0,1475.6 1703.0,1475.6 1705.0,1475.6 1707.0,1475.6 1709.0,1475.6 1711.0,1475.6 1713.0,1475.6 1715.0,1475.6 1717.0,1475.6 1719.0,1475.7 1721.0,1475.7 1723.0,1475.7 1725.0,1475.7 1727.0,1475.7 1729.0,1475.7 1731.0,1475.7 1733.0,1475.7 1735.0,1475.7 1737.0,1475.7 1739.0,1475.8 1741.0,1475.8 1743.0,1475.8 1745.0,1475.8 1747.0,1475.8 1749.0,1475.8 1751.0,1475.8 1753.0,1475.8 1755.0,1475.8 1757.0,1475.8 1759.0,1475.8 1761.0,1475.9 1763.0,1475.9 1765.0,1475.9 1767.0,1475.9 1769.0,1475.9 1771.0,1475.9 1773.0,1475.9 1775.0,1475.9 1777.0,1475.9 1779.0,1475.9 1781.0,1476.0 1783.1,1476.0 1785.1,1476.0 1787.1,1476.0 1789.1,1476.0 1791.1,1476.0 1793.1,1476.0 1795.1,1476.0 1797.1,1476.0 1799.1,1476.0 1801.1,1476.0 1803.1,1476.1 1805.1,1476.1 1807.1,1476.1 1809.1,1476.1 1811.1,1476.1 1813.1,1476.1 1815.1,1476.1 1817.1,1476.1 1819.1,1476.1 1821.1,1476.1 1823.1,1476.1 1825.1,1476.1 1827.1,1476.2 1829.1,1476.2 1831.1,1476.2 1833.1,1476.2 1835.1,1476.2 1837.1,1476.2 1839.1,1476.2 1841.1,1476.2 1843.1,1476.2 1845.1,1476.2 1847.1,1476.2 1849.1,1476.2 1851.1,1476.3 1853.1,1476.3 1855.1,1476.3 1857.1,1476.3 1859.1,1476.3 1861.1,1476.3 1863.1,1476.3 1865.1,1476.3 1867.1,1476.3 1869.1,1476.3 1871.1,1476.3 1873.2,1476.3 1875.2,1476.3 1877.2,1476.3 1879.2,1476.4 1881.2,1476.4 1883.2,1476.4 1885.2,1476.4 1887.2,1476.4 1889.2,1476.4 1891.2,1476.4 1893.2,1476.4 1895.2,1476.4 1897.2,1476.4 1899.2,1476.4 1901.2,1476.4 1903.2,1476.4 1905.2,1476.4 1907.2,1476.4 1909.2,1476.4 1911.2,1476.5 1913.2,1476.5 1915.2,1476.5 1917.2,1476.5 1919.2,1476.5 1921.2,1476.5 1923.2,1476.5 1925.2,1476.5 1927.2,1476.5 1929.2,1476.5 1931.2,1476.5 1933.2,1476.5 1935.2,1476.5 1937.2,1476.5 1939.2,1476.5 1941.2,1476.5 1943.2,1476.5 1945.2,1476.5 1947.2,1476.5 1949.2,1476.6 1951.2,1476.6 1953.2,1476.6 1955.2,1476.6 1957.2,1476.6 1959.2,1476.6 1961.3,1476.6 1963.3,1476.6 1965.3,1476.6 1967.3,1476.6 1969.3,1476.6 1971.3,1476.6 1973.3,1476.6 1975.3,1476.6 1977.3,1476.6 1979.3,1476.6 1981.3,1476.6 1983.3,1476.6 1985.3,1476.6 1987.3,1476.6 1989.3,1476.6 1991.3,1476.6 1993.3,1476.6 1995.3,1476.6 1997.3,1476.6 1999.3,1476.6 2001.3,1476.6 2003.3,1476.6 2005.3,1476.6 2007.3,1476.6 2009.3,1476.6 2011.3,1476.6 2013.3,1476.6 2015.3,1476.6 2017.3,1476.6 2019.3,1476.6 2021.3,1476.6 2023.3,1476.6 2025.3,1476.6 2027.3,1476.6 2029.3,1476.6 2031.3,1476.6 2033.3,1476.6 2035.3,1476.6 2037.3,1476.6 2039.3,1476.6 2041.3,1476.6 2043.3,1476.6 2045.3,1476.6 2047.3,1476.6 2049.3,1476.6 2051.4,1476.6 2053.4,1476.6 2055.4,1476.6 2057.4,1476.6 2059.4,1476.6 2061.4,1476.6 2063.4,1476.6 2065.4,1476.6 2067.4,1476.6 2069.4,1476.6 2071.4,1476.6 2073.4,1476.6 2075.4,1476.6 2077.4,1476.6 2079.4,1476.6 2081.4,1476.6 2083.4,1476.6 2085.4,1476.6 2087.4,1476.6 2089.4,1476.6 2091.4,1476.6 2093.4,1476.6 2095.4,1476.6 2097.4,1476.6" fill="none" stroke="#00ff00" stroke-width="8.8" stroke-linejoin="round" stroke-linecap="butt"/>
<path d="M198,803 H204 L205.5,804.5 V813 H198 Z" fill="#ff0000"/>
<g stroke="#000" stroke-width="3.3" stroke-dasharray="10.9 9.05">
<line x1="663.4" y1="184.0" x2="663.4" y2="466.0"/>
<line x1="787.4" y1="82.2" x2="787.4" y2="364.0"/>
<line x1="834.0" y1="679.9" x2="834.0" y2="1206.0"/>
<line x1="1008.3" y1="508.0" x2="1008.3" y2="793.0"/>
<line x1="1082.5" y1="846.0" x2="1082.5" y2="1057.0"/>
<line x1="1096.5" y1="1130.0" x2="1096.5" y2="1377.0"/>
</g>
<g font-family="'Liberation Serif', serif" font-size="57" fill="#000">
<text transform="translate(549.0,153.0) scale(1,1.02)">234 °C</text>
<text transform="translate(765.5,80.7) scale(1,1.02)">269 °C</text>
<text transform="translate(898.0,528.4) scale(1,1.02)">332 °C</text>
<text transform="translate(725.5,606.1) scale(1,1.02)">283 °C</text>
<text transform="translate(992.0,837.6) scale(1,1.02)">357 °C</text>
<text transform="translate(1014.0,1140.5) scale(1,1.02)">360 °C</text>
</g>
<g fill="#000">
<rect x="1353" y="122.0" width="124" height="9" fill="#000"/>
<rect x="1353" y="188.5" width="124" height="9" fill="#ff0000"/>
<rect x="1353" y="254.5" width="124" height="9" fill="#0000ff"/>
<rect x="1353" y="320.8" width="124" height="9" fill="#00ff00"/>
</g>
<g font-family="'Liberation Serif', serif" font-size="55" letter-spacing="-0.09" fill="#000">
<text transform="translate(1488.8,145.1) scale(1,1.035)">10% Cu-A-BM</text>
<text transform="translate(1488.8,210.6) scale(1,1.035)">10% Cu-O-BM</text>
<text transform="translate(1488.8,277.2) scale(1,1.035)">10% Cu-N-IM</text>
<text transform="translate(1488.3,344.1) scale(1,1.035)">Copper Oxide</text>
</g>
<text x="825.4" y="1730.7" font-family="'Liberation Serif', serif" font-size="80" letter-spacing="0.37" fill="#000">Temperature</text>
<text transform="translate(1225.8,1727.2) scale(0.786,0.645)" x="0" y="0" font-family="'Liberation Serif', 'Noto Serif CJK SC', serif" font-size="100" fill="#000">（</text>
<text x="1310.8" y="1730.7" font-family="'Liberation Serif', serif" font-size="80" letter-spacing="-3" fill="#000">°C</text>
<text transform="translate(1398.3,1727.2) scale(0.8,0.645)" x="0" y="0" font-family="'Liberation Serif', 'Noto Serif CJK SC', serif" font-size="100" fill="#000">）</text>
<g transform="rotate(-90)" fill="#000">
<text x="-1224.2" y="77" font-family="'Liberation Serif', serif" font-size="80" letter-spacing="-0.81">Hydrogen consumption</text>
<text transform="translate(-492.4,72.9) scale(0.771,0.67)" x="0" y="0" font-family="'Liberation Serif', 'Noto Serif CJK SC', serif" font-size="100">（</text>
<text x="-408.7" y="77" font-family="'Liberation Serif', serif" font-size="80" letter-spacing="-0.8">a.u.</text>
<text transform="translate(-290.2,72.8) scale(0.8,0.678)" x="0" y="0" font-family="'Liberation Serif', 'Noto Serif CJK SC', serif" font-size="100">）</text>
</g>
</svg>
</body></html>
